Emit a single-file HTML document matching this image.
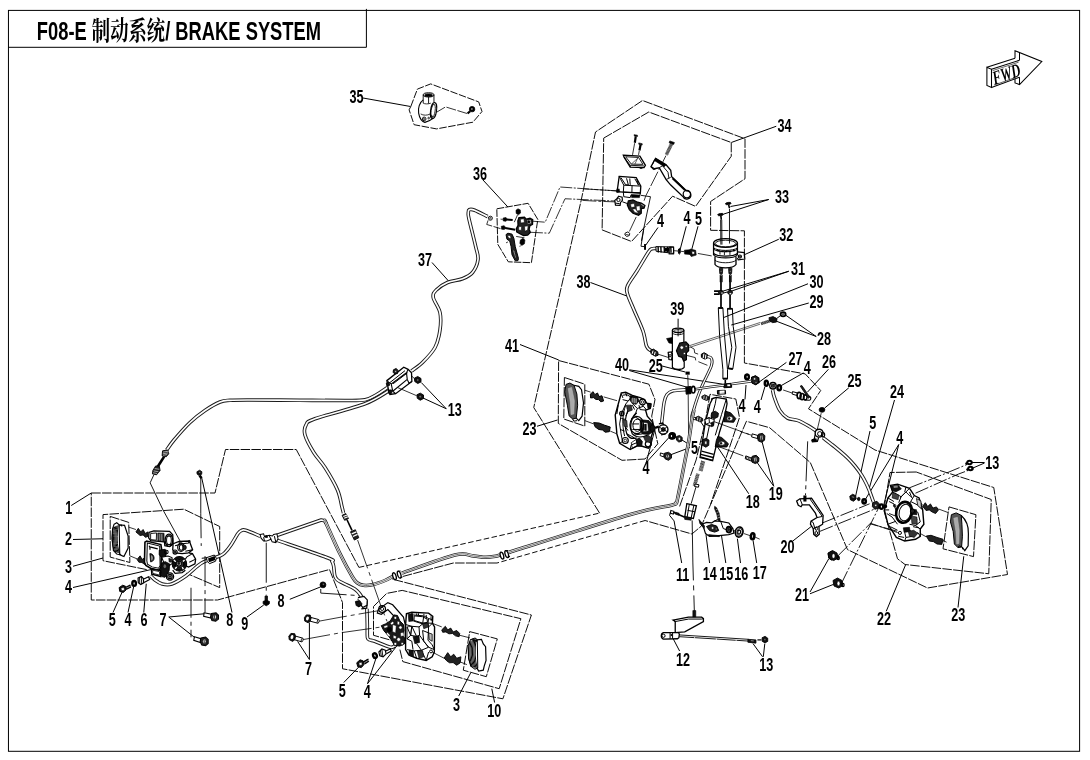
<!DOCTYPE html>
<html><head><meta charset="utf-8"><title>F08-E BRAKE SYSTEM</title>
<style>
html,body{margin:0;padding:0;background:#fff}
svg{display:block}
svg *{vector-effect:none}
.g{fill:none;stroke:#000;stroke-linecap:butt;stroke-linejoin:miter}
.lb{font-family:'Liberation Sans','Noto Sans CJK SC',sans-serif;font-weight:bold;fill:#000;stroke:none}
.tt{font-family:'Liberation Sans','Noto Serif CJK SC','Noto Sans CJK SC',sans-serif;font-weight:bold;fill:#000;stroke:none}
.fw{font-family:'Liberation Serif',serif;font-weight:bold;font-style:italic;fill:#000;stroke:none}
</style></head><body>
<svg width="1090" height="760" viewBox="0 0 1090 760">
<rect width="1090" height="760" fill="#fff"/>
<g class="g">
<rect x="8.45" y="10.4" width="1071.15" height="740.9" stroke-width="1"/>
<polyline points="8.45,47.30 366.40,47.30 366.40,8.90" stroke-width="1.00" />
<g style="filter:grayscale(1)"><text transform="translate(36.8,40.4) scale(0.695,1)" font-size="26.4" class="tt">F08-E 制动系统/ BRAKE SYSTEM</text></g>
<polygon points="986.90,67.25 986.90,85.40 991.50,87.50 991.50,69.30" stroke-width="1.05" />
<line x1="986.90" y1="67.25" x2="1015.00" y2="58.20" stroke-width="1.05" />
<line x1="991.50" y1="69.30" x2="1019.50" y2="60.20" stroke-width="1.05" />
<line x1="992.60" y1="70.60" x2="1018.60" y2="62.20" stroke-width="0.60" />
<polyline points="1015.00,58.20 1015.00,50.70 1041.80,61.50 1019.50,84.60 1015.00,82.90 1015.00,78.80" stroke-width="1.05" />
<line x1="1019.50" y1="53.00" x2="1019.50" y2="60.20" stroke-width="1.05" />
<line x1="1019.50" y1="77.20" x2="1019.50" y2="84.60" stroke-width="1.05" />
<line x1="991.50" y1="87.50" x2="1019.50" y2="77.20" stroke-width="1.05" />
<line x1="994.50" y1="85.00" x2="1015.00" y2="77.60" stroke-width="0.60" />
<g style="filter:grayscale(1)"><text transform="translate(994.6,84.8) rotate(-19) skewX(-4) scale(0.84,1.28)" font-size="15" class="fw">FWD</text></g>
<g style="filter:grayscale(1)">
<text transform="translate(349.50,102.50) scale(0.69,1)" font-size="18.3" class="lb">35</text>
<text transform="translate(473.00,180.00) scale(0.69,1)" font-size="18.3" class="lb">36</text>
<text transform="translate(418.00,265.50) scale(0.69,1)" font-size="18.3" class="lb">37</text>
<text transform="translate(576.50,287.50) scale(0.69,1)" font-size="18.3" class="lb">38</text>
<text transform="translate(505.00,351.75) scale(0.69,1)" font-size="18.3" class="lb">41</text>
<text transform="translate(777.50,132.00) scale(0.69,1)" font-size="18.3" class="lb">34</text>
<text transform="translate(775.00,203.00) scale(0.69,1)" font-size="18.3" class="lb">33</text>
<text transform="translate(779.25,241.25) scale(0.69,1)" font-size="18.3" class="lb">32</text>
<text transform="translate(791.00,275.00) scale(0.69,1)" font-size="18.3" class="lb">31</text>
<text transform="translate(809.50,288.00) scale(0.69,1)" font-size="18.3" class="lb">30</text>
<text transform="translate(809.50,308.00) scale(0.69,1)" font-size="18.3" class="lb">29</text>
<text transform="translate(817.00,344.50) scale(0.69,1)" font-size="18.3" class="lb">28</text>
<text transform="translate(788.50,364.50) scale(0.69,1)" font-size="18.3" class="lb">27</text>
<text transform="translate(803.75,373.75) scale(0.69,1)" font-size="18.3" class="lb">4</text>
<text transform="translate(822.00,368.00) scale(0.69,1)" font-size="18.3" class="lb">26</text>
<text transform="translate(847.50,387.00) scale(0.69,1)" font-size="18.3" class="lb">25</text>
<text transform="translate(890.00,398.00) scale(0.69,1)" font-size="18.3" class="lb">24</text>
<text transform="translate(869.25,428.75) scale(0.69,1)" font-size="18.3" class="lb">5</text>
<text transform="translate(896.25,443.75) scale(0.69,1)" font-size="18.3" class="lb">4</text>
<text transform="translate(985.20,468.75) scale(0.69,1)" font-size="18.3" class="lb">13</text>
<text transform="translate(670.20,314.50) scale(0.69,1)" font-size="18.3" class="lb">39</text>
<text transform="translate(615.00,371.00) scale(0.69,1)" font-size="18.3" class="lb">40</text>
<text transform="translate(648.75,371.50) scale(0.69,1)" font-size="18.3" class="lb">25</text>
<text transform="translate(657.00,227.00) scale(0.69,1)" font-size="18.3" class="lb">4</text>
<text transform="translate(683.50,224.40) scale(0.69,1)" font-size="18.3" class="lb">4</text>
<text transform="translate(695.10,224.60) scale(0.69,1)" font-size="18.3" class="lb">5</text>
<text transform="translate(738.50,412.00) scale(0.69,1)" font-size="18.3" class="lb">4</text>
<text transform="translate(753.75,413.00) scale(0.69,1)" font-size="18.3" class="lb">4</text>
<text transform="translate(522.50,435.00) scale(0.69,1)" font-size="18.3" class="lb">23</text>
<text transform="translate(642.50,474.00) scale(0.69,1)" font-size="18.3" class="lb">4</text>
<text transform="translate(691.00,454.00) scale(0.69,1)" font-size="18.3" class="lb">5</text>
<text transform="translate(745.70,507.50) scale(0.69,1)" font-size="18.3" class="lb">18</text>
<text transform="translate(768.70,499.50) scale(0.69,1)" font-size="18.3" class="lb">19</text>
<text transform="translate(675.95,580.75) scale(0.69,1)" font-size="18.3" class="lb">11</text>
<text transform="translate(702.70,579.50) scale(0.69,1)" font-size="18.3" class="lb">14</text>
<text transform="translate(719.20,579.50) scale(0.69,1)" font-size="18.3" class="lb">15</text>
<text transform="translate(734.20,579.50) scale(0.69,1)" font-size="18.3" class="lb">16</text>
<text transform="translate(752.70,578.75) scale(0.69,1)" font-size="18.3" class="lb">17</text>
<text transform="translate(780.50,552.50) scale(0.69,1)" font-size="18.3" class="lb">20</text>
<text transform="translate(795.00,601.25) scale(0.69,1)" font-size="18.3" class="lb">21</text>
<text transform="translate(877.00,624.50) scale(0.69,1)" font-size="18.3" class="lb">22</text>
<text transform="translate(951.25,621.25) scale(0.69,1)" font-size="18.3" class="lb">23</text>
<text transform="translate(676.10,666.30) scale(0.69,1)" font-size="18.3" class="lb">12</text>
<text transform="translate(759.30,671.20) scale(0.69,1)" font-size="18.3" class="lb">13</text>
<text transform="translate(65.20,513.75) scale(0.69,1)" font-size="18.3" class="lb">1</text>
<text transform="translate(65.00,544.50) scale(0.69,1)" font-size="18.3" class="lb">2</text>
<text transform="translate(65.00,572.50) scale(0.69,1)" font-size="18.3" class="lb">3</text>
<text transform="translate(65.00,593.00) scale(0.69,1)" font-size="18.3" class="lb">4</text>
<text transform="translate(108.75,626.25) scale(0.69,1)" font-size="18.3" class="lb">5</text>
<text transform="translate(124.50,626.25) scale(0.69,1)" font-size="18.3" class="lb">4</text>
<text transform="translate(140.50,626.25) scale(0.69,1)" font-size="18.3" class="lb">6</text>
<text transform="translate(159.50,626.25) scale(0.69,1)" font-size="18.3" class="lb">7</text>
<text transform="translate(226.25,626.25) scale(0.69,1)" font-size="18.3" class="lb">8</text>
<text transform="translate(241.25,630.00) scale(0.69,1)" font-size="18.3" class="lb">9</text>
<text transform="translate(277.50,606.50) scale(0.69,1)" font-size="18.3" class="lb">8</text>
<text transform="translate(305.00,675.00) scale(0.69,1)" font-size="18.3" class="lb">7</text>
<text transform="translate(338.75,696.75) scale(0.69,1)" font-size="18.3" class="lb">5</text>
<text transform="translate(363.75,697.50) scale(0.69,1)" font-size="18.3" class="lb">4</text>
<text transform="translate(453.00,710.75) scale(0.69,1)" font-size="18.3" class="lb">3</text>
<text transform="translate(487.20,717.00) scale(0.69,1)" font-size="18.3" class="lb">10</text>
<text transform="translate(447.70,415.60) scale(0.69,1)" font-size="18.3" class="lb">13</text>
</g>
<line x1="363.00" y1="98.00" x2="410.50" y2="106.50" stroke-width="1.00" />
<line x1="483.00" y1="180.00" x2="507.90" y2="207.00" stroke-width="1.00" />
<line x1="432.00" y1="262.50" x2="448.75" y2="281.25" stroke-width="1.00" />
<line x1="590.50" y1="282.50" x2="627.50" y2="296.25" stroke-width="1.00" />
<line x1="520.00" y1="344.50" x2="558.75" y2="360.00" stroke-width="1.00" />
<line x1="776.25" y1="126.25" x2="731.25" y2="142.50" stroke-width="1.00" />
<line x1="768.75" y1="199.50" x2="730.50" y2="206.50" stroke-width="1.00" />
<line x1="768.75" y1="199.50" x2="723.30" y2="214.20" stroke-width="1.00" />
<line x1="778.75" y1="239.25" x2="743.75" y2="255.00" stroke-width="1.00" />
<line x1="788.75" y1="271.25" x2="731.00" y2="291.25" stroke-width="1.00" />
<line x1="788.75" y1="271.25" x2="720.00" y2="292.00" stroke-width="1.00" />
<line x1="808.00" y1="283.75" x2="723.75" y2="317.50" stroke-width="1.00" />
<line x1="808.75" y1="303.00" x2="731.25" y2="325.00" stroke-width="1.00" />
<line x1="816.20" y1="336.50" x2="785.30" y2="314.90" stroke-width="1.00" />
<line x1="816.20" y1="336.50" x2="775.90" y2="321.00" stroke-width="1.00" />
<line x1="786.40" y1="362.40" x2="758.80" y2="382.30" stroke-width="1.00" />
<line x1="803.50" y1="372.90" x2="781.40" y2="385.50" stroke-width="1.00" />
<line x1="828.40" y1="369.30" x2="807.40" y2="392.20" stroke-width="1.00" />
<line x1="678.10" y1="318.70" x2="678.10" y2="327.50" stroke-width="1.00" />
<line x1="629.25" y1="370.50" x2="686.40" y2="387.00" stroke-width="1.00" />
<line x1="629.25" y1="369.80" x2="722.90" y2="384.20" stroke-width="1.00" />
<line x1="662.10" y1="366.00" x2="685.30" y2="372.00" stroke-width="1.00" />
<line x1="658.00" y1="227.50" x2="645.50" y2="245.50" stroke-width="1.00" />
<line x1="686.25" y1="226.25" x2="680.00" y2="250.00" stroke-width="1.00" />
<line x1="698.00" y1="226.25" x2="691.25" y2="251.25" stroke-width="1.00" />
<line x1="745.00" y1="399.40" x2="746.00" y2="385.00" stroke-width="1.00" />
<line x1="761.00" y1="400.00" x2="764.90" y2="386.70" stroke-width="1.00" />
<line x1="537.00" y1="426.25" x2="557.50" y2="420.00" stroke-width="1.00" />
<line x1="646.25" y1="462.50" x2="655.00" y2="429.00" stroke-width="1.00" />
<line x1="646.25" y1="462.50" x2="671.25" y2="435.00" stroke-width="1.00" />
<line x1="690.00" y1="445.00" x2="680.00" y2="438.75" stroke-width="1.00" />
<line x1="690.00" y1="447.50" x2="670.00" y2="455.00" stroke-width="1.00" />
<line x1="748.75" y1="493.75" x2="698.75" y2="418.75" stroke-width="1.00" />
<line x1="773.75" y1="486.25" x2="761.25" y2="438.75" stroke-width="1.00" />
<line x1="773.75" y1="486.25" x2="756.25" y2="461.25" stroke-width="1.00" />
<line x1="681.70" y1="563.00" x2="674.10" y2="521.00" stroke-width="1.00" />
<line x1="709.60" y1="563.00" x2="706.00" y2="534.60" stroke-width="1.00" />
<line x1="725.80" y1="563.00" x2="720.70" y2="530.60" stroke-width="1.00" />
<line x1="740.50" y1="563.00" x2="737.40" y2="538.70" stroke-width="1.00" />
<line x1="756.70" y1="563.00" x2="753.10" y2="540.70" stroke-width="1.00" />
<line x1="792.50" y1="541.25" x2="812.50" y2="525.50" stroke-width="1.00" />
<line x1="810.00" y1="592.00" x2="828.75" y2="558.75" stroke-width="1.00" />
<line x1="810.00" y1="593.75" x2="833.75" y2="584.25" stroke-width="1.00" />
<line x1="886.25" y1="611.25" x2="905.50" y2="565.00" stroke-width="1.00" />
<line x1="958.00" y1="607.50" x2="963.75" y2="556.25" stroke-width="1.00" />
<line x1="848.80" y1="387.80" x2="824.50" y2="408.20" stroke-width="1.00" />
<line x1="894.50" y1="400.00" x2="868.75" y2="490.00" stroke-width="1.00" />
<line x1="870.00" y1="431.00" x2="855.60" y2="496.20" stroke-width="1.00" />
<line x1="898.75" y1="444.50" x2="865.00" y2="500.00" stroke-width="1.00" />
<line x1="898.75" y1="444.50" x2="883.75" y2="505.00" stroke-width="1.00" />
<line x1="984.50" y1="462.50" x2="971.25" y2="462.50" stroke-width="1.00" />
<line x1="984.50" y1="463.00" x2="971.25" y2="468.75" stroke-width="1.00" />
<line x1="679.60" y1="651.00" x2="673.00" y2="638.40" stroke-width="1.00" />
<line x1="762.60" y1="656.80" x2="753.00" y2="643.60" stroke-width="1.00" />
<line x1="763.30" y1="656.80" x2="764.80" y2="643.60" stroke-width="1.00" />
<line x1="71.25" y1="505.50" x2="91.25" y2="493.00" stroke-width="1.00" />
<line x1="73.00" y1="539.50" x2="103.00" y2="538.75" stroke-width="1.00" />
<line x1="73.00" y1="566.25" x2="103.00" y2="558.00" stroke-width="1.00" />
<line x1="73.00" y1="587.50" x2="151.25" y2="569.50" stroke-width="1.00" />
<line x1="113.00" y1="612.50" x2="122.50" y2="591.25" stroke-width="1.00" />
<line x1="128.00" y1="612.50" x2="133.75" y2="586.25" stroke-width="1.00" />
<line x1="143.75" y1="612.50" x2="146.25" y2="583.75" stroke-width="1.00" />
<line x1="168.75" y1="617.00" x2="204.00" y2="613.80" stroke-width="1.00" />
<line x1="168.75" y1="617.00" x2="194.40" y2="637.30" stroke-width="1.00" />
<line x1="232.00" y1="612.50" x2="201.70" y2="477.80" stroke-width="1.00" />
<line x1="247.00" y1="617.00" x2="263.75" y2="605.00" stroke-width="1.00" />
<line x1="289.80" y1="599.30" x2="320.80" y2="586.80" stroke-width="1.00" />
<line x1="309.40" y1="659.50" x2="309.40" y2="622.50" stroke-width="1.00" />
<line x1="309.40" y1="659.50" x2="297.60" y2="641.40" stroke-width="1.00" />
<line x1="343.75" y1="682.50" x2="359.50" y2="666.25" stroke-width="1.00" />
<line x1="367.50" y1="683.75" x2="376.25" y2="657.50" stroke-width="1.00" />
<line x1="367.50" y1="683.75" x2="397.50" y2="645.00" stroke-width="1.00" />
<line x1="458.70" y1="696.00" x2="470.60" y2="673.00" stroke-width="1.00" />
<line x1="494.60" y1="702.50" x2="491.80" y2="688.70" stroke-width="1.00" />
<line x1="446.25" y1="408.75" x2="421.25" y2="382.50" stroke-width="1.00" />
<line x1="446.25" y1="408.75" x2="423.00" y2="398.00" stroke-width="1.00" />
<polygon points="410.80,106.50 417.40,89.10 430.70,83.90 478.70,101.90 482.00,111.50 472.90,122.20 436.50,128.90 414.10,124.70 409.10,109.80" stroke-width="0.95" stroke-dasharray="7.50 1.50"/>
<polygon points="496.80,208.80 528.10,203.30 537.80,219.40 531.40,262.70 508.30,261.80 497.80,244.30" stroke-width="0.95" stroke-dasharray="7.50 1.20"/>
<polyline points="91.25,493.00 215.00,493.00 225.50,449.50 296.25,449.50 358.90,567.40" stroke-width="0.95" stroke-dasharray="9.50 1.30"/>
<polyline points="358.90,567.40 599.60,513.10" stroke-width="0.95" stroke-dasharray="5.50 2.50"/>
<polyline points="599.60,513.10 533.75,407.50 581.25,200.00 595.50,132.00 642.50,100.50 745.00,138.75 745.00,178.75 710.60,201.50 710.60,230.30 744.40,230.80 744.40,363.00 805.20,373.90 820.70,390.50 808.50,408.80 875.00,450.00 993.75,487.50 1007.50,574.50 927.50,588.00 847.50,549.60 810.30,462.50 769.60,427.70 746.40,421.30 701.30,526.10 691.90,534.00 645.10,520.50" stroke-width="0.95" stroke-dasharray="9.50 1.30"/>
<polyline points="645.10,520.50 497.00,563.00" stroke-width="0.95" stroke-dasharray="5.50 2.50"/>
<polyline points="497.00,563.00 453.30,563.00 392.50,579.20 531.40,615.00 502.90,698.80 342.50,668.75 342.50,602.50 329.50,569.50 217.50,600.00 91.25,600.00 91.25,493.00" stroke-width="0.95" stroke-dasharray="9.50 1.30"/>
<polygon points="603.70,138.10 648.75,112.00 731.25,142.50 731.25,156.25 695.60,206.40 672.60,196.20 631.50,241.50 602.10,229.90" stroke-width="0.95" stroke-dasharray="9.50 1.30"/>
<polygon points="558.60,360.50 648.90,384.20 655.00,399.60 651.70,416.20 657.80,443.80 645.00,459.00 622.00,460.30 558.30,423.40" stroke-width="0.95" stroke-dasharray="9.50 1.30"/>
<polygon points="564.40,377.50 584.80,384.20 584.80,426.10 563.80,419.00" stroke-width="0.95" stroke-dasharray="9.50 1.30"/>
<polyline points="146.70,569.60 103.00,560.70 103.00,514.60 183.80,509.20 219.70,526.50 219.70,587.60 186.20,573.20" stroke-width="0.95" stroke-dasharray="9.50 1.30"/>
<polygon points="110.20,516.40 128.70,522.40 129.90,562.50 110.20,557.10" stroke-width="0.95" stroke-dasharray="9.50 1.30"/>
<polyline points="399.90,649.60 402.80,661.60 499.20,688.70 520.90,618.70 402.20,590.40 386.70,593.40 373.50,606.50 373.50,635.30 392.70,640.70" stroke-width="0.95" stroke-dasharray="9.50 1.30"/>
<polygon points="469.70,631.60 497.30,638.90 486.30,676.70 463.30,670.20" stroke-width="0.95" stroke-dasharray="9.50 1.30"/>
<polyline points="679.60,506.40 696.10,460.00 705.00,423.00 710.00,394.30 735.80,399.00 739.50,417.50 710.70,504.00" stroke-width="0.95" stroke-dasharray="9.50 1.30"/>
<polyline points="916.25,472.00 890.00,472.50 883.75,510.00 897.50,558.75 905.00,564.50 988.75,573.75 991.25,499.50 916.25,472.00" stroke-width="0.95" stroke-dasharray="9.50 1.30"/>
<polygon points="949.00,506.90 975.90,514.70 973.50,556.60 943.00,548.80" stroke-width="0.95" stroke-dasharray="9.50 1.30"/>
<path d="M487.60,216.60 C485.45,215.53 477.77,211.35 474.70,210.20 C471.63,209.05 470.27,209.18 469.20,209.70 C468.13,210.22 468.33,211.75 468.30,213.30 C468.27,214.85 467.77,213.45 469.00,219.00 C470.23,224.55 474.20,239.85 475.70,246.60 C477.20,253.35 478.53,255.18 478.00,259.50 C477.47,263.82 475.08,269.29 472.50,272.50 C469.92,275.71 466.67,277.08 462.50,278.75 C458.33,280.42 451.88,280.62 447.50,282.50 C443.12,284.38 438.62,287.50 436.25,290.00 C433.88,292.50 432.62,293.75 433.25,297.50 C433.88,301.25 438.88,307.08 440.00,312.50 C441.12,317.92 440.83,324.17 440.00,330.00 C439.17,335.83 437.92,342.08 435.00,347.50 C432.08,352.92 426.42,358.58 422.50,362.50 C418.58,366.42 413.33,369.58 411.50,371.00" stroke="#1a1a1a" stroke-width="3.60" stroke-linejoin="round"/>
<path d="M487.60,216.60 C485.45,215.53 477.77,211.35 474.70,210.20 C471.63,209.05 470.27,209.18 469.20,209.70 C468.13,210.22 468.33,211.75 468.30,213.30 C468.27,214.85 467.77,213.45 469.00,219.00 C470.23,224.55 474.20,239.85 475.70,246.60 C477.20,253.35 478.53,255.18 478.00,259.50 C477.47,263.82 475.08,269.29 472.50,272.50 C469.92,275.71 466.67,277.08 462.50,278.75 C458.33,280.42 451.88,280.62 447.50,282.50 C443.12,284.38 438.62,287.50 436.25,290.00 C433.88,292.50 432.62,293.75 433.25,297.50 C433.88,301.25 438.88,307.08 440.00,312.50 C441.12,317.92 440.83,324.17 440.00,330.00 C439.17,335.83 437.92,342.08 435.00,347.50 C432.08,352.92 426.42,358.58 422.50,362.50 C418.58,366.42 413.33,369.58 411.50,371.00" stroke="#fff" stroke-width="1.70" stroke-linejoin="round"/>
<path d="M387.50,387.50 C385.58,388.75 379.75,392.95 376.00,395.00 C372.25,397.05 370.17,398.88 365.00,399.80 C359.83,400.72 355.83,400.42 345.00,400.50 C334.17,400.58 315.83,400.38 300.00,400.30 C284.17,400.22 261.67,400.00 250.00,400.00 C238.33,400.00 235.00,399.97 230.00,400.30 C225.00,400.63 224.17,400.30 220.00,402.00 C215.83,403.70 210.00,407.08 205.00,410.50 C200.00,413.92 195.17,417.58 190.00,422.50 C184.83,427.42 177.88,435.40 174.00,440.00 C170.12,444.60 167.92,448.42 166.70,450.10" stroke="#1a1a1a" stroke-width="3.60" stroke-linejoin="round"/>
<path d="M387.50,387.50 C385.58,388.75 379.75,392.95 376.00,395.00 C372.25,397.05 370.17,398.88 365.00,399.80 C359.83,400.72 355.83,400.42 345.00,400.50 C334.17,400.58 315.83,400.38 300.00,400.30 C284.17,400.22 261.67,400.00 250.00,400.00 C238.33,400.00 235.00,399.97 230.00,400.30 C225.00,400.63 224.17,400.30 220.00,402.00 C215.83,403.70 210.00,407.08 205.00,410.50 C200.00,413.92 195.17,417.58 190.00,422.50 C184.83,427.42 177.88,435.40 174.00,440.00 C170.12,444.60 167.92,448.42 166.70,450.10" stroke="#fff" stroke-width="1.70" stroke-linejoin="round"/>
<path d="M390.00,390.00 C385.83,392.29 377.50,398.96 365.00,403.75 C352.50,408.54 324.83,415.21 315.00,418.75 C305.17,422.29 307.67,422.29 306.00,425.00 C304.33,427.71 303.71,430.42 305.00,435.00 C306.29,439.58 310.42,447.08 313.75,452.50 C317.08,457.92 321.04,461.25 325.00,467.50 C328.96,473.75 334.67,483.42 337.50,490.00 C340.33,496.58 341.00,503.17 342.00,507.00 C343.00,510.83 343.25,512.00 343.50,513.00" stroke="#1a1a1a" stroke-width="3.60" stroke-linejoin="round"/>
<path d="M390.00,390.00 C385.83,392.29 377.50,398.96 365.00,403.75 C352.50,408.54 324.83,415.21 315.00,418.75 C305.17,422.29 307.67,422.29 306.00,425.00 C304.33,427.71 303.71,430.42 305.00,435.00 C306.29,439.58 310.42,447.08 313.75,452.50 C317.08,457.92 321.04,461.25 325.00,467.50 C328.96,473.75 334.67,483.42 337.50,490.00 C340.33,496.58 341.00,503.17 342.00,507.00 C343.00,510.83 343.25,512.00 343.50,513.00" stroke="#fff" stroke-width="1.70" stroke-linejoin="round"/>
<path d="M656.00,248.50 C655.30,248.55 653.05,248.22 651.80,248.80 C650.55,249.38 650.97,248.30 648.50,252.00 C646.03,255.70 640.50,265.33 637.00,271.00 C633.50,276.67 629.08,282.17 627.50,286.00 C625.92,289.83 626.42,290.00 627.50,294.00 C628.58,298.00 631.42,303.83 634.00,310.00 C636.58,316.17 640.90,324.95 643.00,331.00 C645.10,337.05 645.27,343.02 646.60,346.30 C647.93,349.58 650.27,349.97 651.00,350.70" stroke="#1a1a1a" stroke-width="3.60" stroke-linejoin="round"/>
<path d="M656.00,248.50 C655.30,248.55 653.05,248.22 651.80,248.80 C650.55,249.38 650.97,248.30 648.50,252.00 C646.03,255.70 640.50,265.33 637.00,271.00 C633.50,276.67 629.08,282.17 627.50,286.00 C625.92,289.83 626.42,290.00 627.50,294.00 C628.58,298.00 631.42,303.83 634.00,310.00 C636.58,316.17 640.90,324.95 643.00,331.00 C645.10,337.05 645.27,343.02 646.60,346.30 C647.93,349.58 650.27,349.97 651.00,350.70" stroke="#fff" stroke-width="1.70" stroke-linejoin="round"/>
<g transform="translate(400 75) scale(0.082850)">
<ellipse cx="345.00" cy="240.00" rx="65" ry="25" stroke-width="12.07" fill="none"/>
<ellipse cx="345.00" cy="243.00" rx="48" ry="15" stroke-width="9.66" fill="#000"/>
<path d="M280,240 L280,340 M410,240 L410,330 M345,265 L345,345" stroke-width="10.86" fill="none" />
<path d="M280,300 C235,330 215,400 225,460 C235,520 265,560 300,572 C340,560 380,540 400,520" stroke-width="13.28" fill="none" />
<path d="M280,340 C300,352 340,352 372,340" stroke-width="9.66" fill="none" />
<ellipse cx="405.00" cy="430.00" rx="36" ry="98" stroke-width="13.28" fill="none" transform="rotate(8 405.00 430.00)"/>
<ellipse cx="400.00" cy="432.00" rx="24" ry="80" stroke-width="9.66" fill="none" transform="rotate(8 400.00 432.00)"/>
<circle cx="292.00" cy="530.00" r="22" stroke-width="10.86" fill="none"/>
<circle cx="292.00" cy="530.00" r="9" stroke-width="8.45" fill="none"/>
<circle cx="346.00" cy="520.00" r="10" stroke-width="9.66" fill="none"/>
<circle cx="382.00" cy="500.00" r="10" stroke-width="9.66" fill="none"/>
<path d="M250,470 C280,490 330,490 365,470" stroke-width="9.66" fill="none" />
<polyline points="440.00,450.00 550.00,385.00 810.00,465.00" stroke-width="9.66" stroke-dasharray="120.70 18.11"/>
<circle cx="870.00" cy="412.00" r="33" stroke-width="9.66" fill="#000"/>
<circle cx="868.00" cy="410.00" r="12" stroke-width="7.24" fill="#fff"/>
<path d="M845,440 L815,465" stroke-width="26.55" fill="none" />
</g>
<g transform="translate(460 195) scale(0.092081)">
<circle cx="330.00" cy="252.00" r="22" stroke-width="9.77" fill="none"/>
<circle cx="330.00" cy="252.00" r="9" stroke-width="7.60" fill="none"/>
<polyline points="305.00,275.00 290.00,320.00 440.00,365.00" stroke-width="8.69" stroke-dasharray="108.60 16.29"/>
<path d="M608,165 L630,150 L655,162 L658,195 L635,215 L610,200 Z" stroke-width="6.52" fill="#000" />
<line x1="625.00" y1="215.00" x2="590.00" y2="295.00" stroke-width="8.69" />
<path d="M468,250 L500,245 L512,262 L500,285 L470,282 Z" stroke-width="6.52" fill="#000" />
<path d="M505,266 L572,272" stroke-width="21.72" fill="none" />
<path d="M448,340 L480,333 L495,352 L482,375 L452,372 Z" stroke-width="6.52" fill="#000" />
<path d="M490,358 L600,378" stroke-width="21.72" fill="none" />
<line x1="440.00" y1="262.00" x2="465.00" y2="265.00" stroke-width="7.60" />
<path d="M640,245 L700,240 L720,262 L760,252 L790,268 L788,318 L760,335 L750,372 L765,405 L735,435 L690,440 L650,420 L615,400 L612,365 L630,330 L628,280 Z" stroke-width="13.03" fill="#222" />
<path d="M655,262 L695,258 L700,300 L660,305 Z" stroke-width="6.52" fill="#fff" />
<path d="M725,275 L770,268 L775,310 L735,318 Z" stroke-width="6.52" fill="#fff" />
<path d="M700,340 L740,335 L735,380 L705,395 Z" stroke-width="6.52" fill="#fff" />
<path d="M640,340 L670,345 L665,385 L635,380 Z" stroke-width="6.52" fill="#fff" />
<circle cx="748.00" cy="292.00" r="12" stroke-width="10.86" fill="#000"/>
<path d="M500,430 L520,415 L565,425 L585,470 L600,560 L635,690 L630,712 L600,715 L565,650 L555,560 L540,500 L510,480 Z" stroke-width="10.86" fill="#222" />
<path d="M572,590 L600,680 L612,690 L590,610 Z" stroke-width="5.43" fill="#fff" />
<path d="M515,440 L545,440 L555,470 L530,470 Z" stroke-width="5.43" fill="#fff" />
<line x1="500.00" y1="520.00" x2="520.00" y2="510.00" stroke-width="8.69" />
<path d="M655,490 L685,470 L705,490 L700,530 L670,548 L650,525 Z" stroke-width="6.52" fill="#000" />
<polyline points="610.00,450.00 700.00,465.00" stroke-width="8.69" />
<line x1="655.00" y1="548.00" x2="650.00" y2="562.00" stroke-width="8.69" />
</g>
<polyline points="532.70,221.20 545.20,222.20 560.00,187.00 617.00,191.00" stroke-width="0.80" stroke-dasharray="12.00 1.50 2.00 1.50"/>
<polyline points="530.90,232.30 549.30,233.20 565.00,198.75 615.00,201.00" stroke-width="0.80" stroke-dasharray="12.00 1.50 2.00 1.50"/>
<g transform="translate(598 128) scale(0.092081)">
<path d="M392,72 L428,78 L430,92 L395,88 Z" stroke-width="6.52" fill="#000" />
<path d="M410,90 L400,160" stroke-width="23.89" fill="none" />
<path d="M442,162 L480,170 L480,185 L445,180 Z" stroke-width="6.52" fill="#000" />
<path d="M462,182 L450,245" stroke-width="23.89" fill="none" />
<polyline points="398.00,165.00 375.00,292.00" stroke-width="8.69" stroke-dasharray="152.04 21.72"/>
<polyline points="448.00,250.00 440.00,292.00" stroke-width="8.69" stroke-dasharray="152.04 21.72"/>
<path d="M275,295 L455,305 L515,405 L500,430 L350,425 L285,320 Z" stroke-width="14.12" fill="none" />
<path d="M300,312 L440,320 L488,395 L362,392 Z" stroke-width="9.77" fill="none" />
<path d="M285,320 L350,405 L500,412 M350,405 L350,425" stroke-width="9.77" fill="none" />
<path d="M362,392 L440,320 M400,392 L430,330" stroke-width="6.52" fill="none" />
<path d="M455,432 L480,432 L480,440 L455,440 Z" stroke-width="5.43" fill="#000" />
<path d="M780,140 L830,158 L822,178 L772,160 Z" stroke-width="6.52" fill="#000" />
<path d="M800,170 L742,292" stroke-width="36.92" fill="none" stroke-dasharray="3 2"/>
<polyline points="738.00,300.00 520.00,735.00 500.00,790.00" stroke-width="8.69" stroke-dasharray="173.76 21.72"/>
<path d="M625,330 L740,400 L790,460 L800,530 L960,682 A45,45 0 1 1 922,745 L790,620 L740,560 L665,432 L612,442 L575,420 Z" stroke-width="14.12" fill="#fff" />
<path d="M625,330 L740,400 L720,420 L610,352 Z" stroke-width="6.52" fill="#000" />
<path d="M610,352 L590,400 M665,432 L700,410 L760,480 L770,545 M740,560 L790,535 M720,420 L700,410" stroke-width="9.77" fill="none" />
<circle cx="965.00" cy="718.00" r="40" stroke-width="13.03" fill="none"/>
<path d="M810,545 L945,675" stroke-width="21.72" fill="none" />
<path d="M578,425 L600,452 L625,445" stroke-width="10.86" fill="none" />
</g>
<g transform="translate(598 170) scale(0.092081)">
<path d="M230,70 L415,82 L465,175 L460,250 L275,240 L205,235 L215,180 Z" stroke-width="14.12" fill="none" />
<path d="M280,165 L465,175 M230,70 L280,165 L275,240 M370,168 L368,245" stroke-width="10.86" fill="none" />
<path d="M250,85 L300,160 L330,162 L310,90 M345,92 L350,162 M400,95 L440,165 L420,100" stroke-width="10.86" fill="none" />
<path d="M205,210 L230,205 L235,240 L205,245 Z" stroke-width="6.52" fill="#000" />
<path d="M275,240 L460,250 L455,275 L360,270 L350,300 L280,290 Z" stroke-width="10.86" fill="none" />
<path d="M360,270 L455,275 L450,300 L365,300 Z" stroke-width="6.52" fill="#000" />
<path d="M225,285 L262,295 L265,330 L245,352 L240,385 L190,382 L182,330 L205,312 Z" stroke-width="13.03" fill="none" />
<circle cx="222.00" cy="325.00" r="18" stroke-width="10.86" fill="none"/>
<path d="M190,360 L235,365" stroke-width="10.86" fill="none" />
<path d="M330,335 L380,325 L420,345 L470,360 L510,385 L500,415 L470,420 L470,470 L440,492 L380,470 L340,430 L318,380 Z" stroke-width="13.03" fill="#222" />
<path d="M352,372 L392,362 L400,400 L362,408 Z" stroke-width="5.43" fill="#fff" />
<path d="M415,395 L455,388 L458,440 L420,445 Z" stroke-width="5.43" fill="#fff" />
<path d="M375,425 L405,420 L440,470 L400,462 Z" stroke-width="5.43" fill="#fff" />
<path d="M470,372 L500,392" stroke-width="6.52" fill="none" stroke="#fff"/>
<path d="M265,345 L320,365" stroke-width="10.86" fill="none" />
<polyline points="-150.00,205.00 10.00,215.00 205.00,226.00" stroke-width="8.69" stroke-dasharray="152.04 21.72 32.58 21.72"/>
<polyline points="-170.00,330.00 10.00,340.00 185.00,346.00" stroke-width="8.69" stroke-dasharray="152.04 21.72 32.58 21.72"/>
<polyline points="415.00,510.00 335.00,680.00" stroke-width="8.69" stroke-dasharray="173.76 21.72"/>
<path d="M295,685 L325,672 L345,690 L340,712 L312,722 L292,705 Z" stroke-width="9.77" fill="none" />
<path d="M300,700 L335,705" stroke-width="7.60" fill="none" />
<polyline points="465.00,275.00 570.00,290.00 500.00,620.00 472.00,770.00" stroke-width="9.77" />
</g>
<g transform="translate(636 196) scale(0.110497)">
<path d="M82,435 L82,485" stroke-width="14.48" fill="none" />
<rect x="74" y="436" width="16" height="50" fill="#000" stroke="none"/>
<polyline points="70.00,300.00 45.00,455.00 74.00,458.00" stroke-width="8.15" />
<path d="M180,458 L340,462 L342,520 L182,500 Z" stroke-width="9.05" fill="none" />
<path d="M200,460 L202,512" stroke-width="12.67" fill="none" />
<path d="M225,460 L227,512" stroke-width="12.67" fill="none" />
<path d="M255,460 L257,512" stroke-width="12.67" fill="none" />
<path d="M285,460 L287,512" stroke-width="12.67" fill="none" />
<path d="M315,460 L317,512" stroke-width="12.67" fill="none" />
<rect x="262" y="470" width="40" height="34" fill="#000" stroke="none"/>
<rect x="300" y="462" width="40" height="62" fill="none" stroke="#000" stroke-width="10"/>
<ellipse cx="392.00" cy="500.00" rx="9" ry="26" stroke-width="9.05" fill="#000"/>
<polyline points="345.00,495.00 380.00,498.00" stroke-width="7.24" stroke-dasharray="54.30 27.15"/>
<polyline points="404.00,500.00 436.00,504.00" stroke-width="7.24" stroke-dasharray="54.30 27.15"/>
<path d="M438,490 L490,486 L492,530 L440,526 Z" stroke-width="5.43" fill="#000" />
<path d="M490,480 L540,492 L545,535 L500,548 L488,530 Z" stroke-width="5.43" fill="#111" />
<path d="M505,500 L530,505 L530,525 L508,528 Z" stroke-width="4.53" fill="#fff" />
<polyline points="560.00,520.00 700.00,545.00" stroke-width="7.24" stroke-dasharray="126.70 27.15 27.15 27.15"/>
<ellipse cx="810.00" cy="425.00" rx="108" ry="40" stroke-width="11.77" fill="none"/>
<ellipse cx="810.00" cy="430.00" rx="92" ry="30" stroke-width="8.15" fill="none"/>
<path d="M702,425 L702,535 M918,425 L918,535" stroke-width="11.77" fill="none" />
<path d="M702,470 C740,500 880,500 918,470 M702,482 C740,512 880,512 918,482" stroke-width="9.05" fill="none" />
<path d="M702,520 C740,552 880,552 918,520 M702,535 C740,568 880,568 918,535" stroke-width="9.96" fill="none" />
<path d="M715,548 L715,620 C740,660 880,660 905,620 L905,548" stroke-width="11.77" fill="none" />
<path d="M712,580 C745,612 875,612 908,580" stroke-width="8.15" fill="none" />
<rect x="735" y="488" width="22" height="12" fill="#000" stroke="none"/>
<rect x="770" y="496" width="22" height="12" fill="#000" stroke="none"/>
<rect x="805" y="496" width="22" height="12" fill="#000" stroke="none"/>
<rect x="840" y="496" width="22" height="12" fill="#000" stroke="none"/>
<rect x="875" y="488" width="22" height="12" fill="#000" stroke="none"/>
<path d="M760,500 L760,530 M800,505 L800,535 M850,503 L850,533" stroke-width="8.15" fill="none" />
<path d="M918,505 L980,512 L985,570 L925,578 L918,560" stroke-width="10.86" fill="none" />
<circle cx="940.00" cy="548.00" r="14" stroke-width="10.86" fill="none"/>
<circle cx="940.00" cy="548.00" r="5" stroke-width="5.43" fill="#000"/>
<path d="M755,655 L785,655 L782,700 L770,712 L758,700 Z" stroke-width="7.24" fill="#222" />
<path d="M838,655 L868,655 L865,700 L853,712 L841,700 Z" stroke-width="7.24" fill="#222" />
<circle cx="770.00" cy="682.00" r="5" stroke-width="3.62" fill="#fff"/>
<circle cx="853.00" cy="682.00" r="5" stroke-width="3.62" fill="#fff"/>
<path d="M762,712 L762,780 M780,712 L780,780 M846,712 L846,780 M862,712 L862,780" stroke-width="8.15" fill="none" />
<ellipse cx="835.00" cy="68.00" rx="26" ry="10" stroke-width="7.24" fill="#000" transform="rotate(-8 835.00 68.00)"/>
<path d="M838,78 L846,110" stroke-width="14.48" fill="none" />
<ellipse cx="765.00" cy="168.00" rx="26" ry="10" stroke-width="7.24" fill="#000" transform="rotate(-8 765.00 168.00)"/>
<path d="M768,178 L772,215" stroke-width="14.48" fill="none" />
<polyline points="846.00,115.00 846.00,430.00" stroke-width="8.15" stroke-dasharray="362.00 36.20 36.20 36.20"/>
<path d="M766,215 L768,440 M776,215 L778,440" stroke-width="8.15" fill="none" />
</g>
<g transform="translate(640 280) scale(0.110497)">
<polyline points="345.00,440.00 345.00,510.00" stroke-width="8.15" stroke-dasharray="271.50 54.30"/>
<ellipse cx="345.00" cy="455.00" rx="52" ry="20" stroke-width="10.86" fill="none"/>
<ellipse cx="345.00" cy="462.00" rx="40" ry="13" stroke-width="7.24" fill="none"/>
<path d="M293,455 L293,655 M397,455 L397,560 M320,475 L372,478" stroke-width="10.86" fill="none" />
<path d="M293,480 C310,500 380,500 397,480" stroke-width="8.15" fill="none" />
<path d="M240,530 L290,520 L290,575 L262,570 Z" stroke-width="5.43" fill="#000" />
<path d="M360,570 L415,560 L440,585 L440,640 L420,660 L420,720 L395,735 L380,700 L350,690 L330,640 Z" stroke-width="10.86" fill="#222" />
<circle cx="378.00" cy="612.00" r="16" stroke-width="5.43" fill="#fff"/>
<circle cx="418.00" cy="600.00" r="10" stroke-width="5.43" fill="#fff"/>
<circle cx="402.00" cy="665.00" r="10" stroke-width="4.53" fill="#fff"/>
<path d="M293,655 L293,790 C310,815 380,815 400,790 L400,735" stroke-width="10.86" fill="none" />
<path d="M255,655 L285,650 L292,690 L285,722 L262,720 Z" stroke-width="10.86" fill="none" />
<circle cx="272.00" cy="685.00" r="10" stroke-width="9.05" fill="none"/>
<path d="M95,640 L120,625 L160,650 L165,680 L140,690 L100,668 Z" stroke-width="9.05" fill="#222" />
<path d="M118,640 L110,668 M138,650 L130,680" stroke-width="9.05" fill="none" stroke="#fff"/>
<polyline points="165.00,672.00 260.00,702.00" stroke-width="7.24" stroke-dasharray="126.70 27.15"/>
<path d="M733,-40 L733,250 M815,-40 L815,258" stroke-width="15.39" fill="none" />
<path d="M670,100 L720,100 M670,128 L720,128" stroke-width="16.29" fill="none" />
<ellipse cx="732.00" cy="112.00" rx="22" ry="18" stroke-width="9.05" fill="#222"/>
<ellipse cx="742.00" cy="118.00" rx="10" ry="10" stroke-width="5.43" fill="#fff"/>
<ellipse cx="815.00" cy="112.00" rx="22" ry="18" stroke-width="9.05" fill="#222"/>
<ellipse cx="818.00" cy="124.00" rx="12" ry="9" stroke-width="5.43" fill="#fff"/>
<path d="M755,118 L792,108" stroke-width="9.05" fill="none" />
<path d="M440,597 L1086,385 M446,611 L1086,400" stroke-width="5.43" fill="none" />
<polyline points="455.00,605.00 490.00,625.00 495.00,660.00 560.00,682.00" stroke-width="7.24" stroke-dasharray="108.60 27.15"/>
<polyline points="420.00,682.00 500.00,702.00 505.00,730.00 610.00,772.00" stroke-width="7.24" stroke-dasharray="108.60 27.15"/>
<path d="M555,672 L580,658 L612,676 L612,705 L588,716 L556,700 Z" stroke-width="9.05" fill="#222" />
<path d="M578,668 L572,706 M596,676 L592,712" stroke-width="9.05" fill="none" stroke="#fff"/>
</g>
<path d="M707.50,356.50 C708.17,356.83 710.87,356.92 711.50,358.50 C712.13,360.08 712.88,361.42 711.30,366.00 C709.72,370.58 704.38,380.50 702.00,386.00 C699.62,391.50 698.50,394.67 697.00,399.00 C695.50,403.33 693.87,408.92 693.00,412.00 C692.13,415.08 691.13,416.33 691.80,417.50 C692.47,418.67 696.13,418.75 697.00,419.00" stroke="#1a1a1a" stroke-width="3.00" stroke-linejoin="round"/>
<path d="M707.50,356.50 C708.17,356.83 710.87,356.92 711.50,358.50 C712.13,360.08 712.88,361.42 711.30,366.00 C709.72,370.58 704.38,380.50 702.00,386.00 C699.62,391.50 698.50,394.67 697.00,399.00 C695.50,403.33 693.87,408.92 693.00,412.00 C692.13,415.08 691.13,416.33 691.80,417.50 C692.47,418.67 696.13,418.75 697.00,419.00" stroke="#fff" stroke-width="1.30" stroke-linejoin="round"/>
<g transform="translate(640 340) scale(0.110497)">
<rect x="412" y="286" width="38" height="28" fill="#000" stroke="none"/>
<polyline points="432.00,318.00 436.00,420.00" stroke-width="7.24" stroke-dasharray="271.50 36.20 36.20 36.20"/>
<polyline points="436.00,490.00 440.00,900.00" stroke-width="7.24" stroke-dasharray="362.00 36.20 36.20 36.20"/>
<path d="M772,362 L772,395" stroke-width="14.48" fill="none" />
<path d="M755,398 L825,392 L830,428 L760,432 Z" stroke-width="9.05" fill="#111" />
<rect x="790" y="402" width="26" height="16" fill="#fff" stroke="none"/>
<path d="M700,458 L772,455 L775,488 L702,490 Z" stroke-width="9.05" fill="#222" />
<path d="M720,465 L765,463 M720,480 L765,478" stroke-width="13.58" fill="none" stroke="#fff"/>
<ellipse cx="968.00" cy="335.00" rx="18" ry="22" stroke-width="18.10" fill="none"/>
<path d="M1010,340 L1045,325 L1075,345 L1078,385 L1050,402 L1015,385 Z" stroke-width="10.86" fill="#222" />
<circle cx="1038.00" cy="352.00" r="12" stroke-width="5.43" fill="#fff"/>
<circle cx="1052.00" cy="385.00" r="8" stroke-width="4.53" fill="#fff"/>
</g>
<path d="M724.00,385.20 L710.00,387.00 L695.20,389.30" stroke="#1a1a1a" stroke-width="2.60" stroke-linejoin="round"/>
<path d="M724.00,385.20 L710.00,387.00 L695.20,389.30" stroke="#fff" stroke-width="1.10" stroke-linejoin="round"/>
<path d="M731.70,384.00 L750.50,381.40 L752.00,380.00" stroke="#1a1a1a" stroke-width="2.60" stroke-linejoin="round"/>
<path d="M731.70,384.00 L750.50,381.40 L752.00,380.00" stroke="#fff" stroke-width="1.10" stroke-linejoin="round"/>
<path d="M685.90,389.70 C683.77,389.88 676.25,390.00 673.10,390.80 C669.95,391.60 668.48,392.63 667.00,394.50 C665.52,396.37 664.98,398.20 664.20,402.00 C663.42,405.80 662.75,413.63 662.30,417.30 C661.85,420.97 661.63,422.88 661.50,424.00" stroke="#1a1a1a" stroke-width="3.40" stroke-linejoin="round"/>
<path d="M685.90,389.70 C683.77,389.88 676.25,390.00 673.10,390.80 C669.95,391.60 668.48,392.63 667.00,394.50 C665.52,396.37 664.98,398.20 664.20,402.00 C663.42,405.80 662.75,413.63 662.30,417.30 C661.85,420.97 661.63,422.88 661.50,424.00" stroke="#fff" stroke-width="1.60" stroke-linejoin="round"/>
<g transform="translate(640 340) scale(0.110497)">
<path d="M415,425 L460,420 L462,485 L418,490 Z" stroke-width="9.05" fill="#000" />
<ellipse cx="482.00" cy="450.00" rx="16" ry="30" stroke-width="14.48" fill="#fff"/>
</g>
<g transform="translate(740 300) scale(0.110497)">
<path d="M190,215 L330,170" stroke-width="27.15" fill="none" stroke-dasharray="4 2"/>
<path d="M262,160 L300,150 L335,170 L330,200 L295,205 L268,188 Z" stroke-width="7.24" fill="#111" />
<ellipse cx="390.00" cy="130.00" rx="23" ry="19" stroke-width="16.29" fill="none"/>
<ellipse cx="390.00" cy="130.00" rx="8" ry="6" stroke-width="7.24" fill="none"/>
<path d="M335,165 L368,140" stroke-width="9.05" fill="none" />
</g>
<path d="M772.60,390.00 C772.88,391.18 773.10,393.70 774.30,397.10 C775.50,400.50 777.60,406.90 779.80,410.40 C782.00,413.90 784.55,416.43 787.50,418.10 C790.45,419.77 794.00,419.10 797.50,420.40 C801.00,421.70 805.38,424.15 808.50,425.90 C811.62,427.65 814.92,430.07 816.20,430.90" stroke="#1a1a1a" stroke-width="3.60" stroke-linejoin="round"/>
<path d="M772.60,390.00 C772.88,391.18 773.10,393.70 774.30,397.10 C775.50,400.50 777.60,406.90 779.80,410.40 C782.00,413.90 784.55,416.43 787.50,418.10 C790.45,419.77 794.00,419.10 797.50,420.40 C801.00,421.70 805.38,424.15 808.50,425.90 C811.62,427.65 814.92,430.07 816.20,430.90" stroke="#fff" stroke-width="1.70" stroke-linejoin="round"/>
<path d="M823.00,437.70 C825.00,439.25 830.95,443.68 835.00,447.00 C839.05,450.32 843.97,454.43 847.30,457.60 C850.63,460.77 852.60,463.07 855.00,466.00 C857.40,468.93 859.87,472.37 861.70,475.20 C863.53,478.03 864.72,480.42 866.00,483.00 C867.28,485.58 868.15,487.53 869.40,490.70 C870.65,493.87 872.82,500.12 873.50,502.00" stroke="#1a1a1a" stroke-width="3.60" stroke-linejoin="round"/>
<path d="M823.00,437.70 C825.00,439.25 830.95,443.68 835.00,447.00 C839.05,450.32 843.97,454.43 847.30,457.60 C850.63,460.77 852.60,463.07 855.00,466.00 C857.40,468.93 859.87,472.37 861.70,475.20 C863.53,478.03 864.72,480.42 866.00,483.00 C867.28,485.58 868.15,487.53 869.40,490.70 C870.65,493.87 872.82,500.12 873.50,502.00" stroke="#fff" stroke-width="1.70" stroke-linejoin="round"/>
<g transform="translate(740 364) scale(0.110497)">
<ellipse cx="65.00" cy="115.00" rx="14" ry="21" stroke-width="18.10" fill="none"/>
<path d="M105,120 L140,108 L165,125 L168,170 L140,188 L108,172 Z" stroke-width="9.05" fill="#222" />
<circle cx="132.00" cy="135.00" r="10" stroke-width="4.53" fill="#fff"/>
<circle cx="145.00" cy="168.00" r="7" stroke-width="4.53" fill="#fff"/>
<ellipse cx="238.00" cy="175.00" rx="14" ry="23" stroke-width="21.72" fill="none"/>
<circle cx="298.00" cy="197.00" r="29" stroke-width="12.67" fill="none"/>
<circle cx="298.00" cy="197.00" r="14" stroke-width="9.05" fill="none"/>
<path d="M275,180 L320,215 M320,180 L278,215" stroke-width="7.24" fill="none" />
<ellipse cx="355.00" cy="215.00" rx="16" ry="23" stroke-width="21.72" fill="none"/>
<polyline points="390.00,235.00 470.00,262.00" stroke-width="7.24" stroke-dasharray="126.70 27.15 27.15 27.15"/>
<path d="M475,250 L520,262 L515,285 L472,272 Z" stroke-width="9.05" fill="none" />
<ellipse cx="535.00" cy="285.00" rx="18" ry="28" stroke-width="14.48" fill="none"/>
<ellipse cx="562.00" cy="295.00" rx="18" ry="28" stroke-width="14.48" fill="none"/>
<ellipse cx="590.00" cy="302.00" rx="16" ry="24" stroke-width="12.67" fill="none"/>
<path d="M590,280 L632,295 C648,305 640,330 625,328 L585,325" stroke-width="10.86" fill="none" />
<path d="M545,200 L560,195 L632,300 L618,310 Z" stroke-width="7.24" fill="#222" />
<ellipse cx="742.00" cy="415.00" rx="26" ry="22" stroke-width="7.24" fill="#000"/>
<polyline points="735.00,445.00 700.00,590.00" stroke-width="7.24" stroke-dasharray="271.50 36.20 36.20 36.20"/>
<circle cx="716.00" cy="626.00" r="36" stroke-width="12.67" fill="none"/>
<circle cx="722.00" cy="632.00" r="20" stroke-width="9.05" fill="none"/>
<path d="M680,640 L672,680 L650,690 L655,705 L700,700 L712,665" stroke-width="10.86" fill="none" />
<polygon points="648,682 690,672 698,695 655,706" fill="#000" stroke="none"/>
<ellipse cx="752.00" cy="640.00" rx="14" ry="20" stroke-width="10.86" fill="none"/>
<path d="M110,632 L165,648 L160,675 L105,660 Z" stroke-width="9.05" fill="none" />
<path d="M168,635 L205,628 L225,650 L222,690 L195,708 L165,695 L158,660 Z" stroke-width="9.05" fill="#222" />
<path d="M180,650 L205,645 L208,685 L185,690 Z" stroke-width="4.53" fill="#fff" />
<path d="M192,648 L196,688" stroke-width="7.24" fill="none" />
<polyline points="0.00,610.00 105.00,645.00" stroke-width="7.24" stroke-dasharray="126.70 27.15 27.15 27.15"/>
</g>
<g transform="translate(555 372) scale(0.110497)">
<path d="M100,112 L135,100 L172,120 L198,200 L205,300 L192,418 L160,425 L128,398 L112,300 L88,180 Z" stroke-width="9.05" fill="#555" />
<path d="M120,150 L150,140 L175,260 L170,380 L145,385 L140,280 Z" stroke-width="5.43" fill="#aaa" stroke="#bbb"/>
<path d="M172,120 L215,130 L240,160 L258,280 L245,400 L215,440 L192,418" stroke-width="10.86" fill="none" />
<path d="M160,425 L170,445 L200,440" stroke-width="9.05" fill="none" />
<path d="M320,200 L345,178 L360,205 L385,190 L398,222 L425,215 L440,262 L415,270 L395,250 L370,248 L350,232 L322,235 Z" stroke-width="9.05" fill="#222" />
<path d="M350,458 L400,462 L450,482 L500,498 L492,540 L455,545 L430,525 L395,520 L362,495 Z" stroke-width="9.05" fill="#222" />
<polyline points="270.00,165.00 322.00,182.00" stroke-width="7.24" stroke-dasharray="126.70 27.15 27.15 27.15"/>
<polyline points="440.00,225.00 590.00,268.00" stroke-width="7.24" stroke-dasharray="126.70 27.15 27.15 27.15"/>
<polyline points="270.00,440.00 350.00,470.00" stroke-width="7.24" stroke-dasharray="126.70 27.15 27.15 27.15"/>
<polyline points="500.00,535.00 560.00,560.00" stroke-width="7.24" stroke-dasharray="126.70 27.15 27.15 27.15"/>
<path d="M600,190 L640,184 L700,212 L770,232 L810,250 L830,282 L870,290 L862,330 L820,345 L835,400 L880,450 L890,530 L870,590 L870,660 L845,690 L790,672 L745,668 L680,702 L585,645 L560,560 L545,390 Z" stroke-width="12.67" fill="#fff" />
<path d="M612,210 L650,205 L690,228 L640,290 L600,380 L585,470 L598,560 L612,630 L590,640 M572,300 L560,380" stroke-width="9.05" fill="none" />
<path d="M680,215 L745,225 L760,262 L735,292 L700,285 L678,255 Z" stroke-width="7.24" fill="#111" />
<path d="M700,232 L700,275 M718,236 L718,282 M735,240 L735,282" stroke-width="14.48" fill="none" stroke="#888"/>
<path d="M772,432 L850,440 L880,470 L885,540 L850,565 L790,560 L770,520 Z" stroke-width="7.24" fill="#111" />
<path d="M790,455 L840,462 L845,535 L800,540 Z" stroke-width="4.53" fill="#fff" />
<path d="M805,470 L805,530 M822,470 L822,532" stroke-width="14.48" fill="none" />
<path d="M735,610 L765,598 L790,630 L785,668 L745,668 Z" stroke-width="7.24" fill="#111" />
<path d="M836,290 L862,282 L868,318 L842,330 Z" stroke-width="7.24" fill="#111" />
<circle cx="605.00" cy="375.00" r="20" stroke-width="10.86" fill="none"/>
<circle cx="605.00" cy="375.00" r="9" stroke-width="7.24" fill="none"/>
<circle cx="636.00" cy="620.00" r="27" stroke-width="10.86" fill="none"/>
<circle cx="636.00" cy="620.00" r="12" stroke-width="7.24" fill="none"/>
<circle cx="792.00" cy="272.00" r="26" stroke-width="10.86" fill="none"/>
<circle cx="792.00" cy="272.00" r="12" stroke-width="7.24" fill="none"/>
<circle cx="842.00" cy="652.00" r="25" stroke-width="10.86" fill="none"/>
<path d="M690,300 C640,360 620,470 650,560 C670,600 700,610 740,596" stroke-width="10.86" fill="none" />
<path d="M740,370 C690,400 670,500 700,560 C740,600 800,590 840,570" stroke-width="10.86" fill="none" />
<path d="M640,300 C610,380 605,480 630,580" stroke-width="9.05" fill="none" />
<path d="M700,285 L745,330 L800,310 L830,345 M745,330 L720,400 M800,310 L792,298" stroke-width="9.05" fill="none" />
<path d="M650,330 L690,345 M660,360 L640,400 M640,500 L660,530 M650,560 L690,580 L720,600" stroke-width="9.05" fill="none" />
<path d="M700,585 L730,605 M680,700 L690,660 L740,640" stroke-width="9.05" fill="none" />
<path d="M612,250 L660,262 M600,420 L640,430 M590,520 L630,535 M700,300 L720,340 M760,300 L770,340 L820,345 M690,420 L730,410 L770,432 M700,470 L760,470 M700,520 L770,520 M720,570 L790,560" stroke-width="9.05" fill="none" />
<path d="M645,300 L690,300 L700,345 L660,360 Z" stroke-width="5.43" fill="#333" />
<path d="M615,430 L650,440 L655,500 L625,490 Z" stroke-width="5.43" fill="#444" />
<path d="M800,585 L850,575 L870,600 L865,640 L820,630 Z" stroke-width="5.43" fill="#333" />
<path d="M690,640 L735,610 L745,668 L700,690 Z" stroke-width="7.24" fill="none" />
<ellipse cx="740.00" cy="480.00" rx="62" ry="78" stroke-width="10.86" fill="none"/>
<ellipse cx="745.00" cy="482.00" rx="40" ry="55" stroke-width="9.05" fill="none"/>
<path d="M600,200 L615,235 M640,190 L650,220 M700,215 L690,240" stroke-width="9.05" fill="none" />
<ellipse cx="882.00" cy="510.00" rx="22" ry="30" stroke-width="7.24" fill="#111"/>
<path d="M905,505 L940,495" stroke-width="21.72" fill="none" />
<circle cx="980.00" cy="520.00" r="42" stroke-width="12.67" fill="#fff"/>
<circle cx="980.00" cy="520.00" r="18" stroke-width="7.24" fill="#222"/>
<path d="M945,500 L1015,540 M950,545 L1012,498" stroke-width="9.05" fill="none" />
<path d="M940,470 L975,462 L985,480 M1000,560 L960,570" stroke-width="10.86" fill="none" />
<ellipse cx="1062.00" cy="578.00" rx="24" ry="26" stroke-width="19.91" fill="none"/>
</g>
<path d="M694.00,410.00 C693.65,411.67 692.80,414.67 691.90,420.00 C691.00,425.33 689.73,435.33 688.60,442.00 C687.47,448.67 686.93,450.58 685.10,460.00 C683.27,469.42 679.12,491.40 677.60,498.50 C676.08,505.60 677.02,501.48 676.00,502.60 C674.98,503.72 679.25,503.17 671.50,505.20 C663.75,507.23 656.77,506.88 629.50,514.80 C602.23,522.72 528.17,546.38 507.90,552.70" stroke="#222" stroke-width="3.50" stroke-linejoin="round"/>
<path d="M694.00,410.00 C693.65,411.67 692.80,414.67 691.90,420.00 C691.00,425.33 689.73,435.33 688.60,442.00 C687.47,448.67 686.93,450.58 685.10,460.00 C683.27,469.42 679.12,491.40 677.60,498.50 C676.08,505.60 677.02,501.48 676.00,502.60 C674.98,503.72 679.25,503.17 671.50,505.20 C663.75,507.23 656.77,506.88 629.50,514.80 C602.23,522.72 528.17,546.38 507.90,552.70" stroke="#fff" stroke-width="2.00" stroke-linejoin="round"/>
<path d="M694.00,410.00 C693.65,411.67 692.80,414.67 691.90,420.00 C691.00,425.33 689.73,435.33 688.60,442.00 C687.47,448.67 686.93,450.58 685.10,460.00 C683.27,469.42 679.12,491.40 677.60,498.50 C676.08,505.60 677.02,501.48 676.00,502.60 C674.98,503.72 679.25,503.17 671.50,505.20 C663.75,507.23 656.77,506.88 629.50,514.80 C602.23,522.72 528.17,546.38 507.90,552.70" stroke="#333" stroke-width="0.70" stroke-linejoin="round"/>
<path d="M500.00,555.00 C499.50,555.15 499.33,555.52 497.00,555.90 C494.67,556.28 489.90,557.28 486.00,557.30 C482.10,557.32 478.78,556.38 473.60,556.00 C468.42,555.62 466.87,552.13 454.90,555.00 C442.93,557.87 410.65,570.17 401.80,573.20" stroke="#222" stroke-width="3.50" stroke-linejoin="round"/>
<path d="M500.00,555.00 C499.50,555.15 499.33,555.52 497.00,555.90 C494.67,556.28 489.90,557.28 486.00,557.30 C482.10,557.32 478.78,556.38 473.60,556.00 C468.42,555.62 466.87,552.13 454.90,555.00 C442.93,557.87 410.65,570.17 401.80,573.20" stroke="#fff" stroke-width="2.00" stroke-linejoin="round"/>
<path d="M500.00,555.00 C499.50,555.15 499.33,555.52 497.00,555.90 C494.67,556.28 489.90,557.28 486.00,557.30 C482.10,557.32 478.78,556.38 473.60,556.00 C468.42,555.62 466.87,552.13 454.90,555.00 C442.93,557.87 410.65,570.17 401.80,573.20" stroke="#333" stroke-width="0.70" stroke-linejoin="round"/>
<path d="M326.20,523.50 L324.80,520.80 L321.20,520.00 L277.30,535.20" stroke="#1a1a1a" stroke-width="3.60" stroke-linejoin="round"/>
<path d="M326.20,523.50 L324.80,520.80 L321.20,520.00 L277.30,535.20" stroke="#fff" stroke-width="1.70" stroke-linejoin="round"/>
<path d="M392.50,576.60 C391.25,577.25 388.42,579.13 385.00,580.50 C381.58,581.87 375.58,584.00 372.00,584.80 C368.42,585.60 365.92,585.60 363.50,585.30 C361.08,585.00 359.33,584.38 357.50,583.00 C355.67,581.62 355.43,581.90 352.50,577.00 C349.57,572.10 344.28,562.52 339.90,553.60 C335.52,544.68 328.68,528.93 326.20,523.50 C323.72,518.07 325.20,521.42 325.00,521.00" stroke="#222" stroke-width="3.50" stroke-linejoin="round"/>
<path d="M392.50,576.60 C391.25,577.25 388.42,579.13 385.00,580.50 C381.58,581.87 375.58,584.00 372.00,584.80 C368.42,585.60 365.92,585.60 363.50,585.30 C361.08,585.00 359.33,584.38 357.50,583.00 C355.67,581.62 355.43,581.90 352.50,577.00 C349.57,572.10 344.28,562.52 339.90,553.60 C335.52,544.68 328.68,528.93 326.20,523.50 C323.72,518.07 325.20,521.42 325.00,521.00" stroke="#fff" stroke-width="2.00" stroke-linejoin="round"/>
<path d="M392.50,576.60 C391.25,577.25 388.42,579.13 385.00,580.50 C381.58,581.87 375.58,584.00 372.00,584.80 C368.42,585.60 365.92,585.60 363.50,585.30 C361.08,585.00 359.33,584.38 357.50,583.00 C355.67,581.62 355.43,581.90 352.50,577.00 C349.57,572.10 344.28,562.52 339.90,553.60 C335.52,544.68 328.68,528.93 326.20,523.50 C323.72,518.07 325.20,521.42 325.00,521.00" stroke="#333" stroke-width="0.70" stroke-linejoin="round"/>
<path d="M277.30,540.40 C285.77,543.33 318.98,554.48 328.10,558.00 C337.22,561.52 331.08,560.17 332.00,561.50 C332.92,562.83 333.13,563.63 333.60,566.00 C334.07,568.37 334.15,573.37 334.80,575.70 C335.45,578.03 336.15,578.77 337.50,580.00 C338.85,581.23 340.03,581.60 342.90,583.10 C345.77,584.60 351.77,587.03 354.70,589.00 C357.63,590.97 359.03,592.82 360.50,594.90 C361.97,596.98 363.00,600.40 363.50,601.50" stroke="#1a1a1a" stroke-width="3.60" stroke-linejoin="round"/>
<path d="M277.30,540.40 C285.77,543.33 318.98,554.48 328.10,558.00 C337.22,561.52 331.08,560.17 332.00,561.50 C332.92,562.83 333.13,563.63 333.60,566.00 C334.07,568.37 334.15,573.37 334.80,575.70 C335.45,578.03 336.15,578.77 337.50,580.00 C338.85,581.23 340.03,581.60 342.90,583.10 C345.77,584.60 351.77,587.03 354.70,589.00 C357.63,590.97 359.03,592.82 360.50,594.90 C361.97,596.98 363.00,600.40 363.50,601.50" stroke="#fff" stroke-width="1.70" stroke-linejoin="round"/>
<path d="M260.40,536.20 C257.93,535.22 248.75,531.25 245.60,530.30 C242.45,529.35 242.77,529.97 241.50,530.50 C240.23,531.03 239.75,531.08 238.00,533.50 C236.25,535.92 233.17,541.83 231.00,545.00 C228.83,548.17 226.88,550.67 225.00,552.50 C223.12,554.33 223.58,554.25 219.70,556.00 C215.82,557.75 207.28,559.70 201.70,563.00 C196.12,566.30 191.18,572.30 186.20,575.80 C181.22,579.30 175.80,582.63 171.80,584.00 C167.80,585.37 165.00,584.67 162.20,584.00 C159.40,583.33 156.98,581.40 155.00,580.00 C153.02,578.60 151.08,576.33 150.30,575.60" stroke="#1a1a1a" stroke-width="3.60" stroke-linejoin="round"/>
<path d="M260.40,536.20 C257.93,535.22 248.75,531.25 245.60,530.30 C242.45,529.35 242.77,529.97 241.50,530.50 C240.23,531.03 239.75,531.08 238.00,533.50 C236.25,535.92 233.17,541.83 231.00,545.00 C228.83,548.17 226.88,550.67 225.00,552.50 C223.12,554.33 223.58,554.25 219.70,556.00 C215.82,557.75 207.28,559.70 201.70,563.00 C196.12,566.30 191.18,572.30 186.20,575.80 C181.22,579.30 175.80,582.63 171.80,584.00 C167.80,585.37 165.00,584.67 162.20,584.00 C159.40,583.33 156.98,581.40 155.00,580.00 C153.02,578.60 151.08,576.33 150.30,575.60" stroke="#fff" stroke-width="1.70" stroke-linejoin="round"/>
<g transform="translate(504.70 554.70) rotate(-17)">
<rect x="-4.5" y="-3.6" width="9" height="7.2" fill="#fff" stroke="none"/>
<ellipse cx="-2.9" cy="0" rx="1.6" ry="3.6" stroke-width="1.3" fill="#fff"/>
<ellipse cx="2.1" cy="0" rx="1.6" ry="3.6" stroke-width="1.3" fill="#fff"/>
<path d="M2.1,-3.6 L4.5,-3.0 M2.1,3.6 L4.5,3.0" stroke-width="1"/>
</g>
<g transform="translate(397.20 575.30) rotate(-18)">
<rect x="-4.5" y="-3.6" width="9" height="7.2" fill="#fff" stroke="none"/>
<ellipse cx="-2.9" cy="0" rx="1.6" ry="3.6" stroke-width="1.3" fill="#fff"/>
<ellipse cx="2.1" cy="0" rx="1.6" ry="3.6" stroke-width="1.3" fill="#fff"/>
<path d="M2.1,-3.6 L4.5,-3.0 M2.1,3.6 L4.5,3.0" stroke-width="1"/>
</g>
<g transform="translate(225 505) scale(0.147330)">
<path d="M238,200 L262,195 L268,215 L300,205 L322,210 L330,200 L352,195 L360,230 L345,255 L320,250 L312,232 L282,245 L262,245 L245,225 Z" stroke-width="6.79" fill="#fff" />
<path d="M262,218 L268,245 M300,208 L312,232 M335,212 L345,252 M282,205 L284,222" stroke-width="6.79" fill="none" />
<rect x="270" y="206" width="20" height="16" fill="#000" stroke="none"/>
<polyline points="280.00,256.00 280.00,615.00" stroke-width="6.11" stroke-dasharray="271.50 27.15 27.15 27.15"/>
<path d="M272,618 L288,618 L288,650 L272,650 Z" stroke-width="5.43" fill="#111" />
<path d="M258,655 L280,646 L302,655 L300,672 L280,684 L260,672 Z" stroke-width="5.43" fill="#000" />
<circle cx="665.00" cy="542.00" r="20" stroke-width="5.43" fill="#000"/>
<circle cx="668.00" cy="538.00" r="7" stroke-width="3.39" fill="#777"/>
<polyline points="650.00,570.00 650.00,598.00 910.00,615.00" stroke-width="6.11" stroke-dasharray="203.62 27.15 27.15 27.15"/>
<path d="M900,640 L945,632 L965,655 L962,700 L925,705" stroke-width="8.14" fill="#fff" />
<path d="M885,655 L915,648 L930,680 L905,692 Z" stroke-width="5.43" fill="#111" />
<path d="M795,70 L820,58 L838,92 L812,104 Z" stroke-width="6.11" fill="#222" />
<path d="M803,78 L828,68 M809,90 L834,80" stroke-width="8.14" fill="none" stroke="#fff"/>
<path d="M852,182 L885,168 L908,222 L878,238 Z" stroke-width="6.11" fill="#222" />
<path d="M860,196 L892,182 M868,214 L900,200" stroke-width="8.82" fill="none" stroke="#fff"/>
<path d="M828,100 L862,172" stroke-width="10.86" fill="none" />
<polyline points="900.00,238.00 1060.00,690.00 1100.00,790.00" stroke-width="5.43" stroke-dasharray="203.62 27.15 27.15 27.15"/>
</g>
<g transform="translate(100 505) scale(0.119703)">
<path d="M150,165 L205,170 L235,260 L235,360 L200,430 L165,415 L150,400" stroke-width="10.02" fill="none" />
<path d="M118,160 L140,148 L160,165 L165,415 L140,410 L112,380 L100,280 L105,200 Z" stroke-width="9.19" fill="#fff" />
<path d="M112,185 C98,260 100,330 122,392" stroke-width="8.35" fill="none" />
<path d="M122,181 C108,260 110,330 132,395" stroke-width="8.35" fill="none" />
<path d="M132,177 C118,260 120,330 142,398" stroke-width="8.35" fill="none" />
<path d="M142,173 C128,260 130,330 152,401" stroke-width="8.35" fill="none" />
<path d="M152,169 C138,260 140,330 162,404" stroke-width="8.35" fill="none" />
<path d="M160,175 L178,165 L182,180 M165,405 L185,428" stroke-width="8.35" fill="none" />
<path d="M300,225 L320,195 L340,225 L360,205 L378,238 L400,225 L402,262 L380,270 L360,250 L335,255 L318,240 Z" stroke-width="7.52" fill="#222" />
<path d="M310,455 L335,425 L352,455 L375,440 L398,470 L400,500 L375,498 L350,480 L325,478 Z" stroke-width="7.52" fill="#222" />
<polyline points="240.00,185.00 300.00,205.00" stroke-width="6.68" stroke-dasharray="116.96 25.06 25.06 25.06"/>
<polyline points="250.00,425.00 310.00,450.00" stroke-width="6.68" stroke-dasharray="116.96 25.06 25.06 25.06"/>
</g>
<g transform="translate(138 526) scale(0.078927)">
<path d="M140,80 L200,62 L400,68 L440,110 L445,230 L400,262 L340,250 L335,200 L160,185 L135,150 Z" stroke-width="16.47" fill="#fff" />
<path d="M160,95 L235,88 L232,180 L160,172 Z" stroke-width="11.40" fill="none" />
<path d="M250,88 L330,92 L332,200 L252,192 Z" stroke-width="7.60" fill="#222" />
<path d="M272,100 L274,185 M300,102 L302,190" stroke-width="20.27" fill="none" stroke="#777"/>
<ellipse cx="392.00" cy="180.00" rx="48" ry="78" stroke-width="16.47" fill="#fff"/>
<ellipse cx="392.00" cy="180.00" rx="30" ry="56" stroke-width="12.67" fill="none"/>
<path d="M360,130 L425,128 M358,232 L425,235" stroke-width="11.40" fill="none" />
<path d="M88,205 L110,190 L290,235 L300,300 L290,520 L268,560 L170,540 L100,500 L82,460 Z" stroke-width="20.27" fill="#fff" />
<path d="M118,215 L275,255 L280,500 L262,535 L178,518 L120,485 L112,440 Z" stroke-width="12.67" fill="none" />
<path d="M150,265 L250,290 M140,250 L150,265 L152,300" stroke-width="15.20" fill="none" />
<path d="M150,350 C215,350 225,450 160,455 Z" stroke-width="10.14" fill="#222" />
<path d="M165,370 C195,375 198,430 168,438 Z" stroke-width="6.33" fill="#999" stroke="none"/>
<path d="M270,305 L345,295 L362,330 L352,385 L290,392 L268,360 Z" stroke-width="10.14" fill="#111" />
<path d="M445,225 L520,195 L650,190 L692,300 L640,340 L560,350 L470,340 L440,300 Z" stroke-width="16.47" fill="#fff" />
<ellipse cx="545.00" cy="270.00" rx="42" ry="52" stroke-width="15.20" fill="none"/>
<ellipse cx="548.00" cy="272.00" rx="24" ry="34" stroke-width="12.67" fill="none"/>
<ellipse cx="590.00" cy="272.00" rx="22" ry="28" stroke-width="10.14" fill="#222"/>
<path d="M520,195 L525,225 M650,190 L640,215 L560,225 L470,250 M692,300 L600,320" stroke-width="12.67" fill="none" />
<path d="M640,185 L660,182 L662,205 L645,208 Z" stroke-width="6.33" fill="#111" />
<path d="M640,340 L690,350 L730,420 L722,480 L640,520 L600,500" stroke-width="16.47" fill="#fff" />
<path d="M690,350 L620,390 L600,420 M730,420 L650,460" stroke-width="12.67" fill="none" />
<circle cx="525.00" cy="480.00" r="92" stroke-width="12.67" fill="#111"/>
<circle cx="525.00" cy="480.00" r="66" stroke-width="12.67" fill="#fff"/>
<circle cx="525.00" cy="480.00" r="54" stroke-width="17.74" fill="#333"/>
<circle cx="520.00" cy="476.00" r="30" stroke-width="12.67" fill="#fff"/>
<circle cx="518.00" cy="474.00" r="14" stroke-width="10.14" fill="#222"/>
<path d="M455,430 L478,452 M470,540 L492,520 M575,545 L560,522 M590,430 L570,450" stroke-width="17.74" fill="none" stroke="#fff"/>
<path d="M300,395 L380,380 L430,400 L440,470 L400,500 L330,470 Z" stroke-width="13.94" fill="#fff" />
<circle cx="360.00" cy="330.00" r="22" stroke-width="13.94" fill="none"/>
<circle cx="470.00" cy="330.00" r="26" stroke-width="15.20" fill="#fff"/>
<circle cx="470.00" cy="330.00" r="12" stroke-width="10.14" fill="#222"/>
<path d="M390,410 L425,420 L428,460 L395,455 Z" stroke-width="7.60" fill="#222" />
<path d="M300,470 L345,452 L400,480 L395,560 L370,620 L340,650 L300,640 L285,560 Z" stroke-width="11.40" fill="#111" />
<ellipse cx="340.00" cy="510.00" rx="22" ry="30" stroke-width="7.60" fill="#666"/>
<circle cx="405.00" cy="640.00" r="46" stroke-width="16.47" fill="#fff"/>
<circle cx="405.00" cy="640.00" r="28" stroke-width="15.20" fill="none"/>
<circle cx="405.00" cy="640.00" r="12" stroke-width="10.14" fill="#333"/>
<path d="M170,545 L285,565 L288,640 L175,612 Z" stroke-width="17.74" fill="#fff" />
<path d="M185,560 L272,578 L274,622 L188,600 Z" stroke-width="10.14" fill="none" />
<path d="M440,560 L470,600 L560,590 L600,560" stroke-width="15.20" fill="none" />
</g>
<g transform="translate(100 505) scale(0.119703)">
<path d="M890,440 L955,418 L972,445 L965,470 L915,490 L895,470 Z" stroke-width="8.35" fill="#fff" />
<path d="M905,455 L960,435 M908,470 L962,450" stroke-width="18.38" fill="none" />
<path d="M850,445 L895,440" stroke-width="8.35" fill="none" />
<path d="M160,690 L190,670 L215,680 L222,705 L195,730 L165,722 Z" stroke-width="8.35" fill="#111" />
<path d="M175,695 L200,688 L205,712 L182,716 Z" stroke-width="4.18" fill="#fff" />
<path d="M220,685 L255,668 M225,702 L258,685" stroke-width="10.02" fill="none" />
<path d="M222,693 L256,676" stroke-width="25.06" fill="none" stroke-dasharray="2.5 2.5"/>
<ellipse cx="285.00" cy="655.00" rx="15" ry="20" stroke-width="20.05" fill="none"/>
<path d="M318,610 L345,598 L362,615 L365,650 L340,665 L320,650 Z" stroke-width="10.02" fill="none" />
<path d="M345,598 L348,660 M330,604 L332,655" stroke-width="7.52" fill="none" />
<path d="M362,620 L405,600 L415,622 L368,648" stroke-width="10.02" fill="none" />
</g>
<path d="M366.90,608.90 C366.97,611.58 367.20,620.20 367.30,625.00 C367.40,629.80 367.05,635.20 367.50,637.70 C367.95,640.20 368.80,639.40 370.00,640.00 C371.20,640.60 371.32,640.10 374.70,641.30 C378.08,642.50 386.92,646.50 390.30,647.20 C393.68,647.90 394.22,645.78 395.00,645.50" stroke="#1a1a1a" stroke-width="3.60" stroke-linejoin="round"/>
<path d="M366.90,608.90 C366.97,611.58 367.20,620.20 367.30,625.00 C367.40,629.80 367.05,635.20 367.50,637.70 C367.95,640.20 368.80,639.40 370.00,640.00 C371.20,640.60 371.32,640.10 374.70,641.30 C378.08,642.50 386.92,646.50 390.30,647.20 C393.68,647.90 394.22,645.78 395.00,645.50" stroke="#fff" stroke-width="1.70" stroke-linejoin="round"/>
<g transform="translate(340 585) scale(0.119703)">
<path d="M320,205 L400,147 L440,165 L530,268 L545,330 L545,480 L520,500 L500,470 L505,340 L470,280 L400,205 L345,245 L312,235 Z" stroke-width="10.02" fill="#fff" />
<circle cx="352.00" cy="200.00" r="28" stroke-width="10.02" fill="none"/>
<circle cx="352.00" cy="200.00" r="13" stroke-width="7.52" fill="none"/>
<path d="M345,340 L380,325 L420,300 L450,250 L480,255 L500,300 L530,330 L535,380 L520,420 L545,450 L540,490 L500,510 L455,505 L430,460 L400,420 L365,380 Z" stroke-width="8.35" fill="#1a1a1a" />
<circle cx="412.00" cy="372.00" r="20" stroke-width="5.01" fill="#000"/>
<circle cx="462.00" cy="275.00" r="12" stroke-width="5.01" fill="#fff"/>
<circle cx="505.00" cy="355.00" r="14" stroke-width="5.01" fill="#fff"/>
<path d="M440,330 L470,340 L465,400 L438,390 Z" stroke-width="4.18" fill="#fff" />
<circle cx="490.00" cy="455.00" r="16" stroke-width="5.01" fill="#fff"/>
<circle cx="462.00" cy="492.00" r="12" stroke-width="4.18" fill="#fff"/>
<circle cx="520.00" cy="490.00" r="10" stroke-width="4.18" fill="#fff"/>
<path d="M365,345 L395,335 L400,350 L372,362 Z M420,320 L440,305 L452,318 L432,335 Z M480,300 L498,310 L495,335 L478,328 Z M505,400 L528,395 L530,425 L508,430 Z M445,420 L470,428 L468,450 L445,445 Z M395,395 L420,420 L410,432 L388,408 Z" stroke-width="3.34" fill="#fff" />
<path d="M555,240 L600,228 L740,235 L775,262 L772,320 L790,350 L788,560 L770,600 L720,630 L640,612 L575,585 L548,540 L548,330 Z" stroke-width="11.70" fill="#fff" />
<path d="M570,245 L608,240 L612,300 L575,305 Z" stroke-width="5.01" fill="#111" />
<path d="M612,250 L700,258 L740,280 L772,290 M612,300 L690,325 L735,318 L772,320 M700,258 L690,325 M740,280 L735,318" stroke-width="8.35" fill="none" />
<path d="M548,330 L600,345 L660,350 L690,325 M600,345 L590,420 L560,450 M660,350 L665,420 L700,470 L740,520 M590,420 L640,430 L665,420" stroke-width="8.35" fill="none" />
<path d="M740,350 L735,460 L770,500 M690,380 L740,400 M560,540 L620,550 L680,545 L740,520 L788,540 M620,550 L640,612 M680,545 L720,630" stroke-width="8.35" fill="none" />
<path d="M610,430 L660,425 L665,480 L625,490 Z" stroke-width="5.01" fill="#111" />
<path d="M580,545 L612,550 L615,600 L580,590 Z" stroke-width="5.01" fill="#111" />
<path d="M700,240 L702,255 M655,236 L656,252" stroke-width="8.35" fill="none" />
<circle cx="760.00" cy="555.00" r="12" stroke-width="8.35" fill="none"/>
<path d="M620,258 L690,265 L728,285 L730,312 L690,318 L618,296 Z" stroke-width="8.35" fill="none" />
<path d="M600,232 L606,300 M640,238 L642,256 M720,250 L722,280 M760,262 L762,300" stroke-width="8.35" fill="none" />
<path d="M560,350 L590,420 M600,345 L640,430 M690,380 L700,470 M740,400 L760,460 M700,470 L740,520 M560,450 L600,470 L610,540 M640,490 L680,545" stroke-width="8.35" fill="none" />
<path d="M735,318 L740,350 L772,320 M770,500 L788,540 M720,630 L740,560 M575,585 L580,545" stroke-width="8.35" fill="none" />
<path d="M690,325 L735,318 L740,350 L700,365 Z" stroke-width="5.01" fill="#333" />
<path d="M560,350 L600,345 L590,420 L560,450 Z" stroke-width="6.68" fill="none" />
<path d="M645,552 L690,548 L700,600 L660,612 Z" stroke-width="5.01" fill="#333" />
<path d="M740,400 L770,410 L770,470 L745,455 Z" stroke-width="6.68" fill="#bbb" />
<path d="M150,105 L200,95 L228,125 L225,170 L190,188 L170,160" stroke-width="10.02" fill="#fff" />
<path d="M130,145 L165,130 L185,160 L160,180 L135,172 Z" stroke-width="6.68" fill="#111" />
<path d="M140,650 L168,625 L195,635 L200,665 L178,690 L148,682 Z" stroke-width="8.35" fill="#111" />
<path d="M158,650 L182,645 L185,668 L162,672 Z" stroke-width="4.18" fill="#fff" />
<path d="M200,640 L238,618 M205,660 L240,636" stroke-width="10.02" fill="none" />
<path d="M202,650 L240,627" stroke-width="25.06" fill="none" stroke-dasharray="2.5 2.5"/>
<ellipse cx="292.00" cy="590.00" rx="15" ry="20" stroke-width="20.05" fill="none" transform="rotate(-20 292.00 590.00)"/>
<path d="M325,560 L350,535 L378,545 L385,575 L360,600 L332,592 Z" stroke-width="10.02" fill="none" />
<path d="M350,535 L358,598 M338,548 L345,596" stroke-width="7.52" fill="none" />
<path d="M382,552 L420,535 L428,552 L388,575" stroke-width="10.02" fill="none" />
<path d="M850,375 L880,345 L900,375 L925,360 L945,392 L975,380 L1000,405 L995,432 L965,425 L940,405 L910,408 L885,392 L858,395 Z" stroke-width="7.52" fill="#222" />
<path d="M870,610 L900,565 L925,600 L950,578 L975,612 L1010,600 L1005,650 L975,670 L945,648 L915,650 L890,632 Z" stroke-width="7.52" fill="#222" />
<polyline points="770.00,320.00 850.00,350.00" stroke-width="6.68" stroke-dasharray="116.96 25.06 25.06 25.06"/>
<polyline points="1000.00,420.00 1086.00,442.00" stroke-width="6.68" stroke-dasharray="116.96 25.06 25.06 25.06"/>
<polyline points="770.00,560.00 870.00,612.00" stroke-width="6.68" stroke-dasharray="116.96 25.06 25.06 25.06"/>
<polyline points="1010.00,645.00 1060.00,665.00" stroke-width="6.68" stroke-dasharray="116.96 25.06 25.06 25.06"/>
<polyline points="-190.00,305.00 0.00,270.00 320.00,215.00" stroke-width="6.68" stroke-dasharray="250.62 33.42 33.42 33.42"/>
<polyline points="-330.00,460.00 0.00,400.00 350.00,350.00" stroke-width="6.68" stroke-dasharray="250.62 33.42 33.42 33.42"/>
</g>
<g transform="translate(440 620) scale(0.092106)">
<path d="M400,215 L450,210 L470,260 L495,290 L500,440 L480,500 L470,545 L420,555 L400,520" stroke-width="13.03" fill="#fff" />
<path d="M330,215 L380,195 L405,215 L410,520 L380,535 L340,505 L310,420 L305,280 Z" stroke-width="10.86" fill="#fff" />
<path d="M322,235 C305,320 308,430 335,505" stroke-width="10.86" fill="none" />
<path d="M336,230 C319,320 322,430 349,509" stroke-width="10.86" fill="none" />
<path d="M350,225 C333,320 336,430 363,513" stroke-width="10.86" fill="none" />
<path d="M364,220 C347,320 350,430 377,517" stroke-width="10.86" fill="none" />
<path d="M378,215 C361,320 364,430 391,521" stroke-width="10.86" fill="none" />
<path d="M392,210 C375,320 378,430 405,525" stroke-width="10.86" fill="none" />
<path d="M340,215 L400,235 M350,205 L405,225" stroke-width="10.86" fill="none" />
</g>
<g transform="translate(309.00 618.90) rotate(15)">
<rect x="0" y="-1.9" width="9.5" height="3.8" fill="#fff" stroke-width="0.9"/>
<ellipse cx="9.5" cy="0" rx="0.9" ry="1.9" stroke-width="0.8" fill="#fff"/>
<path d="M-3.6,-3.2 L0.2,-4 L1.8,-1.2 L1.8,1.8 L0.2,4 L-3.6,3.2 L-4.8,0 Z" fill="#111" stroke-width="0.8"/>
<ellipse cx="-1.6" cy="0" rx="1.4" ry="2.1" fill="#fff" stroke="none"/>
</g>
<g transform="translate(293.50 637.50) rotate(16)">
<rect x="0" y="-1.9" width="9" height="3.8" fill="#fff" stroke-width="0.9"/>
<ellipse cx="9" cy="0" rx="0.9" ry="1.9" stroke-width="0.8" fill="#fff"/>
<path d="M-3.6,-3.2 L0.2,-4 L1.8,-1.2 L1.8,1.8 L0.2,4 L-3.6,3.2 L-4.8,0 Z" fill="#111" stroke-width="0.8"/>
<ellipse cx="-1.6" cy="0" rx="1.4" ry="2.1" fill="#fff" stroke="none"/>
</g>
<g transform="translate(180 596) scale(0.137608)">
<path d="M175,122 L228,132 L225,160 L172,148 Z" stroke-width="7.99" fill="#fff" />
<path d="M228,128 L262,122 L280,140 L280,168 L260,184 L232,178 L222,152 Z" stroke-width="7.27" fill="#222" />
<ellipse cx="252.00" cy="153.00" rx="12" ry="17" stroke-width="4.36" fill="#fff"/>
<path d="M250,138 L252,168" stroke-width="5.81" fill="none" />
<path d="M105,296 L152,310 L148,338 L100,322 Z" stroke-width="7.99" fill="#fff" />
<path d="M152,305 L186,298 L205,316 L205,345 L186,362 L158,356 L146,330 Z" stroke-width="7.27" fill="#222" />
<ellipse cx="177.00" cy="330.00" rx="12" ry="17" stroke-width="4.36" fill="#fff"/>
<path d="M175,315 L177,345" stroke-width="5.81" fill="none" />
<polyline points="80.00,-60.00 80.00,300.00" stroke-width="6.54" stroke-dasharray="218.01 29.07 29.07 29.07"/>
<polyline points="182.00,-290.00 182.00,120.00" stroke-width="6.54" stroke-dasharray="218.01 29.07 29.07 29.07"/>
</g>
<g transform="translate(140 440) scale(0.092081)">
<path d="M245,118 L300,108 L312,150 L285,182 L240,172 Z" stroke-width="9.77" fill="#222" />
<path d="M250,132 L305,122 M248,150 L306,140 M250,166 L295,158" stroke-width="6.52" fill="none" stroke="#fff"/>
<path d="M262,180 L192,290" stroke-width="28.24" fill="none" />
<path d="M170,282 L210,285 L218,330 L180,378 L135,368 L140,330 Z" stroke-width="9.77" fill="#222" />
<path d="M160,310 L210,318 M148,335 L200,345 M142,356 L186,364" stroke-width="6.52" fill="none" stroke="#fff"/>
<polyline points="150.00,380.00 110.00,465.00 250.00,760.00 470.00,1160.00" stroke-width="9.77" />
<path d="M618,345 L648,328 L672,345 L670,372 L640,385 L620,370 Z" stroke-width="8.69" fill="#111" />
<path d="M640,352 L655,350" stroke-width="5.43" fill="none" stroke="#fff"/>
<path d="M648,385 L668,415" stroke-width="28.24" fill="none" />
<polyline points="660.00,415.00 660.00,800.00 665.00,1150.00" stroke-width="9.77" stroke-dasharray="651.60 54.30 54.30 54.30"/>
</g>
<g transform="translate(360 340) scale(0.125000)">
<path d="M215,325 L350,218 L385,235 L412,262 L415,332 L285,430 L240,436 L228,400 Z" stroke-width="10.40" fill="#fff" />
<path d="M385,235 L372,262 L378,315 L392,345 L415,332 M372,262 L250,352 L262,410 L285,430 M378,315 L262,410" stroke-width="8.80" fill="none" />
<path d="M240,340 L360,245 M265,350 L380,262" stroke-width="8.00" fill="none" />
<path d="M215,325 L250,352 M228,400 L262,410" stroke-width="8.00" fill="none" />
<path d="M210,345 L232,338 L238,362 L215,368 Z" stroke-width="6.40" fill="#111" />
<path d="M225,405 L250,398 L255,425 L232,432 Z" stroke-width="6.40" fill="#111" />
<path d="M268,238 L290,228 L305,245 L300,268 L278,272 L265,258 Z" stroke-width="8.00" fill="#222" />
<circle cx="285.00" cy="250.00" r="7" stroke-width="4.00" fill="#fff"/>
<polyline points="300.00,380.00 452.00,445.00" stroke-width="6.40" stroke-dasharray="240.00 32.00 32.00 32.00"/>
<polyline points="415.00,290.00 432.00,305.00" stroke-width="6.40" stroke-dasharray="64.00 24.00"/>
<path d="M435,305 L462,292 L488,308 L488,335 L462,348 L438,332 Z" stroke-width="7.20" fill="#111" />
<circle cx="462.00" cy="320.00" r="11" stroke-width="4.80" fill="#666"/>
<path d="M455,438 L482,425 L508,440 L508,468 L482,482 L458,466 Z" stroke-width="7.20" fill="#111" />
<circle cx="482.00" cy="453.00" r="11" stroke-width="4.80" fill="#666"/>
</g>
<g transform="translate(870 474) scale(0.119703)">
<path d="M760,345 C800,380 825,430 822,500 L820,600 L792,640 L770,610" stroke-width="10.02" fill="none" />
<path d="M680,340 L720,325 L762,345 L768,420 L772,520 L765,610 L735,615 L705,585 L695,480 L672,400 Z" stroke-width="8.35" fill="#555" />
<path d="M700,370 L730,362 L745,470 L742,580 L725,585 L718,480 Z" stroke-width="5.01" fill="#aaa" stroke="#bbb"/>
<path d="M735,615 L745,600 L770,610 L775,630" stroke-width="8.35" fill="none" />
<path d="M440,270 L462,240 L482,272 L505,250 L525,285 L555,275 L572,300 L548,330 L520,318 L495,300 L468,305 Z" stroke-width="7.52" fill="#222" />
<path d="M470,518 L510,512 L560,530 L610,545 L600,588 L560,585 L530,565 L495,560 Z" stroke-width="7.52" fill="#222" />
<polyline points="572.00,292.00 652.00,322.00" stroke-width="6.68" stroke-dasharray="116.96 25.06 25.06 25.06"/>
<polyline points="610.00,555.00 640.00,570.00" stroke-width="6.68" stroke-dasharray="116.96 25.06 25.06 25.06"/>
<polyline points="420.00,235.00 440.00,262.00" stroke-width="6.68" stroke-dasharray="66.83 25.06"/>
<polyline points="425.00,500.00 470.00,525.00" stroke-width="6.68" stroke-dasharray="66.83 25.06"/>
<path d="M170,95 L230,85 L330,120 L370,180 L410,200 L440,300 L450,420 L420,460 L420,520 L380,545 L290,560 L220,530 L150,420 L120,300 L150,200 L190,150 Z" stroke-width="11.70" fill="#fff" />
<path d="M175,100 L235,92 L262,125 L215,150 L182,135 Z" stroke-width="5.01" fill="#111" />
<path d="M198,108 L232,104" stroke-width="16.71" fill="none" stroke="#888"/>
<ellipse cx="285.00" cy="320.00" rx="66" ry="88" stroke-width="21.72" fill="none" transform="rotate(12 285.00 320.00)"/>
<ellipse cx="292.00" cy="322.00" rx="48" ry="70" stroke-width="8.35" fill="none" transform="rotate(12 292.00 322.00)"/>
<path d="M190,150 L260,190 L330,120 M260,190 L240,240 M370,180 L340,230 L400,260 L440,300 M340,230 L330,250" stroke-width="8.35" fill="none" />
<path d="M150,200 L200,230 M120,300 L160,300 M150,420 L215,395 M350,300 L400,320 L420,400 L380,430 L330,420 M420,460 L380,430" stroke-width="8.35" fill="none" />
<path d="M340,292 L388,298 L392,340 L345,338 Z" stroke-width="5.01" fill="#111" />
<path d="M278,450 L330,445 L335,480 L285,488 Z" stroke-width="5.01" fill="#111" />
<path d="M290,488 L300,530 L360,520 L400,490 L420,520 M300,530 L290,560 M330,470 L380,500" stroke-width="8.35" fill="none" />
<circle cx="206.00" cy="265.00" r="10" stroke-width="8.35" fill="none"/>
<circle cx="250.00" cy="492.00" r="13" stroke-width="8.35" fill="none"/>
<path d="M250,200 L300,150 L340,190 M160,330 L210,350" stroke-width="7.52" fill="none" />
<path d="M160,230 L200,250 L215,300 M140,330 L185,360 L230,420 M170,440 L230,470 M235,520 L285,530 M350,360 L395,380 M360,440 L410,450 M330,150 L350,200 M300,110 L290,150" stroke-width="8.35" fill="none" />
<path d="M345,350 L392,360 L395,420 L350,415 Z" stroke-width="5.01" fill="#444" />
<path d="M320,480 L365,470 L400,495 L370,530 L330,520 Z" stroke-width="5.01" fill="#333" />
<path d="M190,155 L240,175 L235,215 L185,200 Z" stroke-width="5.01" fill="#444" />
<path d="M388,205 L425,225 L430,290 L400,265 Z" stroke-width="6.68" fill="#ccc" />
<circle cx="355.00" cy="310.00" r="18" stroke-width="8.35" fill="#222"/>
<path d="M22,240 L58,228 L78,250 L72,285 L40,295 L20,272 Z" stroke-width="7.52" fill="#222" />
<circle cx="48.00" cy="262.00" r="9" stroke-width="4.18" fill="#fff"/>
<ellipse cx="95.00" cy="272.00" rx="14" ry="19" stroke-width="18.38" fill="#fff"/>
<circle cx="128.00" cy="270.00" r="10" stroke-width="11.70" fill="none"/>
<polyline points="0.00,410.00 232.00,490.00" stroke-width="6.68" stroke-dasharray="250.62 33.42 33.42 33.42"/>
</g>
<g transform="translate(770 420) scale(0.110497)">
<path d="M722,690 L748,672 L775,685 L780,715 L755,735 L728,722 Z" stroke-width="8.15" fill="#111" />
<path d="M740,695 L762,700" stroke-width="4.53" fill="none" stroke="#fff"/>
<ellipse cx="803.00" cy="715.00" rx="12" ry="15" stroke-width="7.24" fill="#111"/>
<ellipse cx="852.00" cy="736.00" rx="15" ry="19" stroke-width="23.53" fill="none"/>
</g>
<g transform="translate(790 480) scale(0.110497)">
<path d="M60,190 L90,170 L195,165 L300,320 L295,400 L262,420 L265,490 L240,512 L215,492 L210,440 L185,400 L190,372 L245,340 L230,300 L175,225 L110,225 L100,242 L75,228 Z" stroke-width="11.77" fill="#fff" />
<path d="M90,170 L112,225 M195,165 L185,178 L292,330 M245,340 L292,330 M210,440 L262,420 M190,372 L210,385 L225,440" stroke-width="9.05" fill="none" />
<ellipse cx="238.00" cy="440.00" rx="10" ry="16" stroke-width="9.05" fill="none"/>
<ellipse cx="238.00" cy="480.00" rx="12" ry="14" stroke-width="9.05" fill="none"/>
<rect x="121" y="140" width="28" height="55" fill="#000" stroke="none"/>
<polyline points="160.00,-350.00 140.00,138.00" stroke-width="8.15" stroke-dasharray="362.00 36.20 36.20 36.20"/>
<path d="M345,665 L372,648 L400,655 L412,680 L405,712 L375,725 L350,705 Z" stroke-width="9.05" fill="#111" />
<ellipse cx="382.00" cy="688.00" rx="15" ry="22" stroke-width="5.43" fill="#fff"/>
<ellipse cx="428.00" cy="700.00" rx="10" ry="16" stroke-width="12.67" fill="none"/>
</g>
<g transform="translate(780 460) scale(0.250000)">
<path d="M192,372 L210,362 L228,372 L232,392 L215,402 L196,394 Z" stroke-width="3.60" fill="#111" />
<ellipse cx="214.00" cy="384.00" rx="6" ry="9" stroke-width="2.00" fill="#fff"/>
<ellipse cx="233.00" cy="392.00" rx="4.5" ry="6.5" stroke-width="4.80" fill="none"/>
<path d="M212,482 L230,472 L248,482 L252,502 L235,512 L216,504 Z" stroke-width="3.60" fill="#111" />
<ellipse cx="234.00" cy="494.00" rx="6" ry="9" stroke-width="2.00" fill="#fff"/>
<ellipse cx="252.00" cy="500.00" rx="4.5" ry="6.5" stroke-width="4.80" fill="none"/>
</g>
<polyline points="822.00,523.10 869.60,503.80" stroke-width="0.90" stroke-dasharray="14.00 2.00 2.00 2.00"/>
<polyline points="819.80,531.40 874.00,509.30" stroke-width="0.90" stroke-dasharray="14.00 2.00 2.00 2.00"/>
<polyline points="909.50,487.80 944.20,474.00 967.00,464.50" stroke-width="0.90" stroke-dasharray="14.00 2.00 2.00 2.00"/>
<polyline points="915.50,493.20 958.60,474.00 968.00,470.50" stroke-width="0.90" stroke-dasharray="14.00 2.00 2.00 2.00"/>
<g transform="translate(780 340) scale(0.250000)">
<ellipse cx="758.00" cy="490.00" rx="9" ry="7" stroke-width="8.00" fill="none"/>
<path d="M742,496 L750,492" stroke-width="8.80" fill="none" />
<ellipse cx="762.00" cy="514.00" rx="9" ry="7" stroke-width="8.00" fill="none"/>
<path d="M746,520 L754,516" stroke-width="8.80" fill="none" />
</g>
<polyline points="837.50,556.25 870.00,523.75 898.00,531.50" stroke-width="0.90" stroke-dasharray="14.00 2.00 2.00 2.00"/>
<polyline points="841.25,583.75 880.00,505.00" stroke-width="0.90" stroke-dasharray="14.00 2.00 2.00 2.00"/>
<g transform="translate(690 388) scale(0.105263)">
<path d="M205,100 L245,95 L250,140 L210,150 Z" stroke-width="9.50" fill="#fff" />
<path d="M250,90 L345,105 L352,150 L330,260 L280,420 L215,690 L95,660 L145,330 L190,150 L215,100 Z" stroke-width="12.35" fill="#fff" />
<path d="M250,90 L240,150 L190,330 L150,520 M345,105 L300,250 L240,450" stroke-width="9.50" fill="none" />
<path d="M110,600 L225,630 M103,630 L220,660 M97,655 L215,688" stroke-width="13.30" fill="none" />
<path d="M335,220 L385,235 L435,290 L415,325 L320,320 L330,260 Z" stroke-width="9.50" fill="#1a1a1a" />
<ellipse cx="378.00" cy="290.00" rx="28" ry="22" stroke-width="5.70" fill="#fff"/>
<circle cx="372.00" cy="290.00" r="10" stroke-width="4.75" fill="#111"/>
<path d="M265,460 L300,470 L365,530 L350,560 L240,560 L250,500 Z" stroke-width="9.50" fill="#1a1a1a" />
<ellipse cx="302.00" cy="525.00" rx="28" ry="20" stroke-width="5.70" fill="#fff"/>
<circle cx="295.00" cy="525.00" r="10" stroke-width="4.75" fill="#111"/>
<path d="M205,235 L240,220 L270,240 L265,275 L230,292 L200,272 Z" stroke-width="8.55" fill="#1a1a1a" />
<path d="M140,300 L180,282 L230,300 L225,345 L200,362 L150,345 Z" stroke-width="10.45" fill="#fff" />
<path d="M180,282 L185,330 L150,345 M185,330 L225,345" stroke-width="8.55" fill="none" />
<path d="M200,330 L222,320 L225,360 L205,368 Z" stroke-width="5.70" fill="#111" />
<path d="M118,495 L150,478 L180,495 L178,545 L150,562 L120,545 Z" stroke-width="8.55" fill="#1a1a1a" />
<path d="M140,505 L160,505 L160,535 L140,535 Z" stroke-width="4.75" fill="#fff" />
<path d="M100,510 L120,500 M100,540 L120,545" stroke-width="9.50" fill="none" />
<path d="M112,80 L140,65 L180,85 L182,108 L155,118 L115,100 Z" stroke-width="8.55" fill="#222" />
<path d="M135,72 L130,105 M158,80 L152,114" stroke-width="6.65" fill="none" stroke="#fff"/>
<path d="M52,280 L80,268 L120,290 L122,312 L95,322 L55,302 Z" stroke-width="8.55" fill="#222" />
<path d="M75,275 L70,308 M98,284 L92,318" stroke-width="6.65" fill="none" stroke="#fff"/>
<path d="M125,695 L100,790" stroke-width="39.90" fill="none" stroke-dasharray="2.5 2"/>
<polyline points="230.00,320.00 560.00,440.00" stroke-width="7.60" stroke-dasharray="285.00 38.00 38.00 38.00"/>
<polyline points="240.00,545.00 520.00,650.00" stroke-width="7.60" stroke-dasharray="285.00 38.00 38.00 38.00"/>
<path d="M530,645 L590,668 L585,695 L525,672 Z" stroke-width="9.50" fill="#fff" />
<path d="M592,648 L630,640 L655,665 L652,700 L622,718 L590,705 L582,672 Z" stroke-width="9.50" fill="#222" />
<path d="M605,662 L632,656 L636,695 L610,700 Z" stroke-width="4.75" fill="#fff" />
<path d="M618,660 L622,698" stroke-width="7.60" fill="none" />
<path d="M540,652 L538,676 M555,658 L553,682 M570,664 L568,688" stroke-width="7.60" fill="none" />
</g>
<g transform="translate(664 486) scale(0.101286)">
<path d="M335,-120 L300,0" stroke-width="35.54" fill="none" stroke-dasharray="2.5 2"/>
<path d="M308,-20 L345,-12 L340,12 L302,5 Z" stroke-width="9.87" fill="#fff" />
<polyline points="315.00,12.00 268.00,175.00" stroke-width="8.89" stroke-dasharray="197.46 39.49"/>
<path d="M225,175 L320,195 L290,320 L205,305 Z" stroke-width="12.83" fill="#fff" />
<path d="M250,180 L228,310 M295,190 L268,315 M232,240 L305,255" stroke-width="9.87" fill="none" />
<path d="M200,300 L270,312 L268,338 L205,330 Z" stroke-width="5.92" fill="#111" />
<path d="M68,242 L98,250 L92,278 L62,268 Z" stroke-width="10.86" fill="#fff" />
<path d="M98,262 L200,305" stroke-width="15.80" fill="none" />
<path d="M115,258 L150,270 L145,290 L112,278 Z" stroke-width="5.92" fill="#111" />
<path d="M62,268 L55,290 L100,345" stroke-width="9.87" fill="none" />
<polyline points="278.00,340.00 285.00,760.00 300.00,1250.00" stroke-width="8.89" stroke-dasharray="592.38 49.36 49.36 49.36"/>
<path d="M380,375 L420,360 L470,365 L500,345 L560,350 L640,365 L680,420 L690,465 L640,480 L545,490 L450,498 L410,470 Z" stroke-width="11.85" fill="#fff" />
<path d="M345,330 L400,395 L395,420 L355,370 Z" stroke-width="7.90" fill="#111" />
<path d="M420,400 L470,380 L520,395 L540,440 L500,455 L450,440 Z" stroke-width="9.87" fill="#222" />
<circle cx="480.00" cy="415.00" r="12" stroke-width="4.94" fill="#fff"/>
<circle cx="515.00" cy="425.00" r="8" stroke-width="4.94" fill="#fff"/>
<path d="M500,345 L530,330 L560,350 M560,350 L585,420 L640,440 L680,420" stroke-width="9.87" fill="none" />
<ellipse cx="640.00" cy="430.00" rx="22" ry="28" stroke-width="19.75" fill="#fff"/>
<ellipse cx="640.00" cy="430.00" rx="8" ry="12" stroke-width="9.87" fill="#222"/>
<path d="M440,480 L545,490 L548,500 L445,495 Z" stroke-width="5.92" fill="#111" />
<path d="M500,200 L520,215 L545,270 L555,340 L535,338 L520,275 L498,222 Z" stroke-width="5.92" fill="#111" />
<path d="M512,235 L530,228 M520,262 L540,255 M528,290 L548,284 M532,315 L552,310" stroke-width="4.94" fill="none" stroke="#fff"/>
<ellipse cx="742.00" cy="455.00" rx="38" ry="50" stroke-width="15.80" fill="#fff" transform="rotate(12 742.00 455.00)"/>
<ellipse cx="742.00" cy="455.00" rx="14" ry="20" stroke-width="11.85" fill="none" transform="rotate(12 742.00 455.00)"/>
<ellipse cx="746.00" cy="457.00" rx="27" ry="38" stroke-width="7.90" fill="none" transform="rotate(12 746.00 457.00)"/>
<ellipse cx="875.00" cy="496.00" rx="17" ry="30" stroke-width="25.67" fill="none" transform="rotate(8 875.00 496.00)"/>
<polyline points="790.00,470.00 850.00,490.00" stroke-width="7.90" stroke-dasharray="138.22 29.62 29.62 29.62"/>
<polyline points="900.00,505.00 945.00,525.00" stroke-width="7.90" stroke-dasharray="138.22 29.62 29.62 29.62"/>
<polyline points="690.00,440.00 705.00,445.00" stroke-width="7.90" stroke-dasharray="138.22 29.62"/>
</g>
<g transform="translate(640 590) scale(0.146789)">
<path d="M360,140 L380,140 L380,190 L360,190 Z" stroke-width="4.09" fill="#111" />
<path d="M225,205 L330,185 L420,185 L432,195 L432,215 L305,285 L240,290 L240,215 Z" stroke-width="8.86" fill="#fff" />
<path d="M225,205 L240,215 L330,198 L420,198 L432,195 M240,290 L238,315" stroke-width="6.81" fill="none" />
<path d="M160,290 L262,290 L268,300 L265,325 L255,332 L160,335 C140,330 140,295 160,290 Z" stroke-width="8.86" fill="#fff" />
<circle cx="160.00" cy="312.00" r="11" stroke-width="6.81" fill="none"/>
<path d="M205,292 L205,332 M222,292 L222,332" stroke-width="6.81" fill="none" />
<rect x="209" y="300" width="10" height="14" fill="#111" stroke="none"/>
<path d="M268,306 L740,336 M268,318 L740,348" stroke-width="6.13" fill="none" />
<path d="M372,322 L372,330 M520,330 L520,340 M655,338 L655,346" stroke-width="6.81" fill="none" stroke="#fff"/>
<path d="M735,336 L790,340 L790,362 L735,356 Z" stroke-width="5.45" fill="#111" />
<path d="M755,345 L775,347" stroke-width="3.41" fill="none" stroke="#fff"/>
<path d="M832,325 L852,316 L870,328 L870,350 L852,360 L833,350 Z" stroke-width="6.13" fill="#111" />
<circle cx="851.00" cy="338.00" r="7" stroke-width="3.41" fill="#777"/>
<path d="M800,340 L828,340" stroke-width="8.17" fill="none" />
</g>
<path d="M718.3,307.8 L719.6,335.5 L722.9,369.7 L722.9,378.9 L727.5,378.9 L727.5,369.7 L724.5,335.5 L722.9,307.8 Z" stroke-width="1.00" fill="none" />
<path d="M718.3,308 L722.9,308" stroke-width="1.80" fill="none" />
<path d="M722.9,378.6 L727.5,378.6" stroke-width="1.80" fill="none" />
<path d="M727.5,308.5 L728.4,326.3 L731.8,347.3 L728.2,368.4 L732.8,369 L736,347.3 L733.2,326.3 L732.4,308.5 Z" stroke-width="1.00" fill="none" />
<path d="M727.5,308.8 L732.4,308.8" stroke-width="1.80" fill="none" />
<path d="M728.2,368.4 L732.8,369" stroke-width="1.80" fill="none" />
<g transform="translate(640 420) scale(0.110497)">
<ellipse cx="285.00" cy="145.00" rx="17" ry="21" stroke-width="21.72" fill="#fff"/>
<path d="M330,150 L358,140 L382,158 L380,190 L352,200 L330,182 Z" stroke-width="8.15" fill="#222" />
<ellipse cx="356.00" cy="170.00" rx="10" ry="14" stroke-width="4.53" fill="#fff"/>
<polyline points="305.00,150.00 328.00,160.00" stroke-width="7.24" stroke-dasharray="72.40 27.15"/>
<path d="M185,298 L222,310 L218,335 L182,322 Z" stroke-width="9.05" fill="#fff" />
<path d="M222,300 L258,292 L285,312 L285,345 L258,365 L228,352 L215,328 Z" stroke-width="8.15" fill="#222" />
<ellipse cx="250.00" cy="328.00" rx="14" ry="19" stroke-width="4.53" fill="#fff"/>
<path d="M248,312 L252,345" stroke-width="7.24" fill="none" />
</g>
</g>
</svg>
</body></html>
